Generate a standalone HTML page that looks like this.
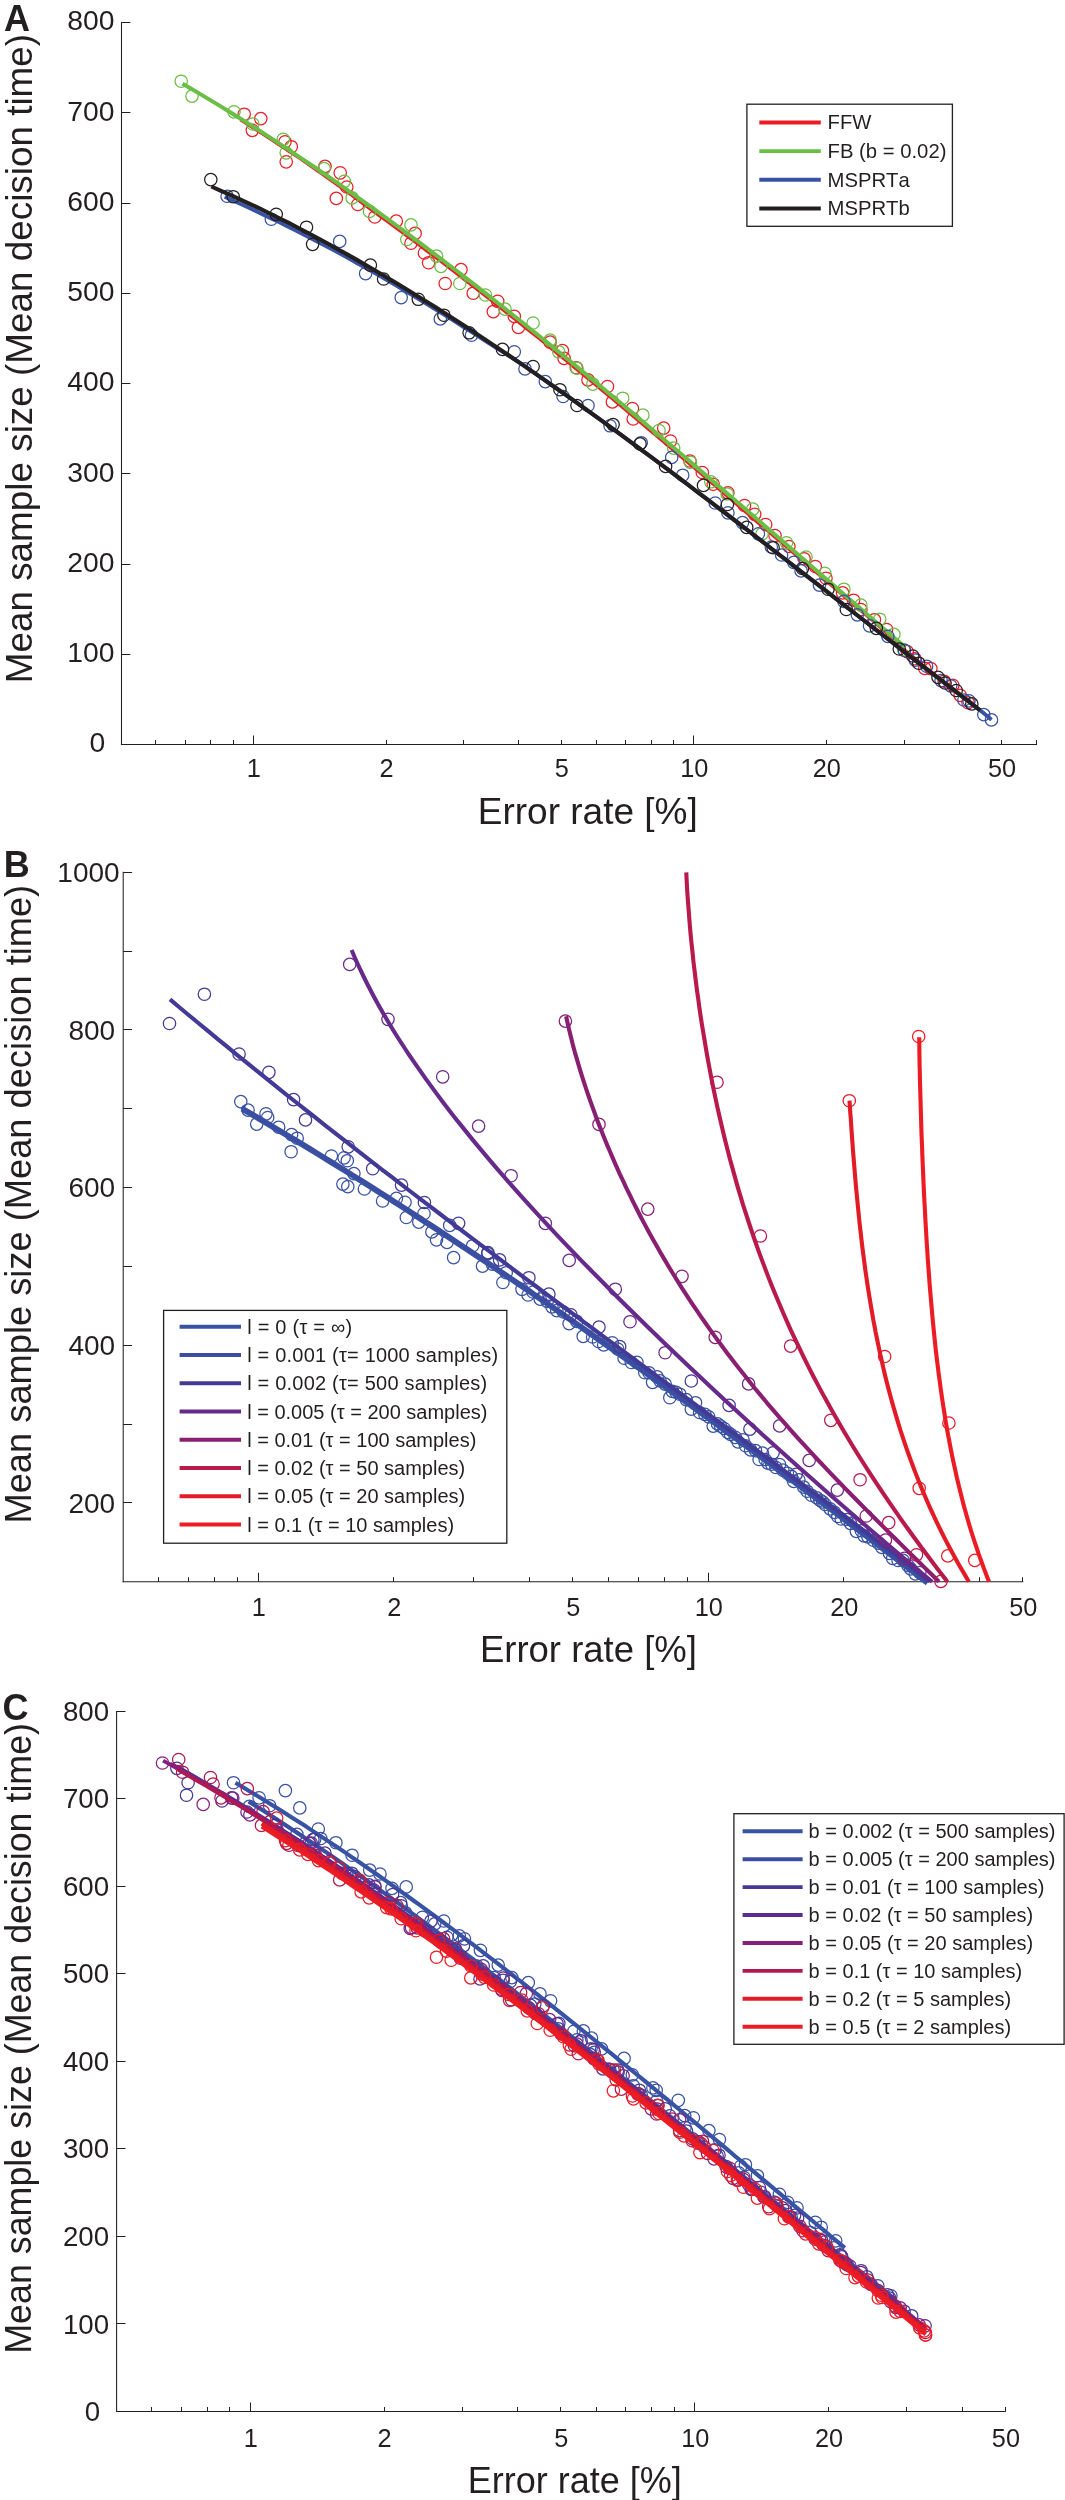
<!DOCTYPE html>
<html><head><meta charset="utf-8"><title>Figure</title>
<style>html,body{margin:0;padding:0;background:#fff;}svg{display:block;}text{font-family:"Liberation Sans",sans-serif;fill:#231f20;font-kerning:none;}</style></head><body>
<div style="will-change:transform;width:1065px;height:2500px;overflow:hidden">
<svg width="1065" height="2500" viewBox="0 0 1065 2500">
<rect width="1065" height="2500" fill="#fff"/>
<line x1="121.50" y1="21.98" x2="121.50" y2="745.02" stroke="#231f20" stroke-width="1.05"/>
<line x1="120.97" y1="744.50" x2="1037.03" y2="744.50" stroke="#231f20" stroke-width="1.05"/>
<line x1="121.50" y1="654.50" x2="130.40" y2="654.50" stroke="#231f20" stroke-width="1.05"/>
<line x1="121.50" y1="564.50" x2="130.40" y2="564.50" stroke="#231f20" stroke-width="1.05"/>
<line x1="121.50" y1="473.50" x2="130.40" y2="473.50" stroke="#231f20" stroke-width="1.05"/>
<line x1="121.50" y1="383.50" x2="130.40" y2="383.50" stroke="#231f20" stroke-width="1.05"/>
<line x1="121.50" y1="293.50" x2="130.40" y2="293.50" stroke="#231f20" stroke-width="1.05"/>
<line x1="121.50" y1="203.50" x2="130.40" y2="203.50" stroke="#231f20" stroke-width="1.05"/>
<line x1="121.50" y1="112.50" x2="130.40" y2="112.50" stroke="#231f20" stroke-width="1.05"/>
<line x1="121.50" y1="22.50" x2="130.40" y2="22.50" stroke="#231f20" stroke-width="1.05"/>
<line x1="155.50" y1="744.50" x2="155.50" y2="740.00" stroke="#231f20" stroke-width="1.05"/>
<line x1="185.50" y1="744.50" x2="185.50" y2="740.00" stroke="#231f20" stroke-width="1.05"/>
<line x1="210.50" y1="744.50" x2="210.50" y2="740.00" stroke="#231f20" stroke-width="1.05"/>
<line x1="233.50" y1="744.50" x2="233.50" y2="740.00" stroke="#231f20" stroke-width="1.05"/>
<line x1="253.50" y1="744.50" x2="253.50" y2="735.50" stroke="#231f20" stroke-width="1.05"/>
<line x1="386.50" y1="744.50" x2="386.50" y2="740.00" stroke="#231f20" stroke-width="1.05"/>
<line x1="463.50" y1="744.50" x2="463.50" y2="740.00" stroke="#231f20" stroke-width="1.05"/>
<line x1="518.50" y1="744.50" x2="518.50" y2="740.00" stroke="#231f20" stroke-width="1.05"/>
<line x1="561.50" y1="744.50" x2="561.50" y2="740.00" stroke="#231f20" stroke-width="1.05"/>
<line x1="596.50" y1="744.50" x2="596.50" y2="740.00" stroke="#231f20" stroke-width="1.05"/>
<line x1="625.50" y1="744.50" x2="625.50" y2="740.00" stroke="#231f20" stroke-width="1.05"/>
<line x1="651.50" y1="744.50" x2="651.50" y2="740.00" stroke="#231f20" stroke-width="1.05"/>
<line x1="673.50" y1="744.50" x2="673.50" y2="740.00" stroke="#231f20" stroke-width="1.05"/>
<line x1="693.50" y1="744.50" x2="693.50" y2="735.50" stroke="#231f20" stroke-width="1.05"/>
<line x1="826.50" y1="744.50" x2="826.50" y2="740.00" stroke="#231f20" stroke-width="1.05"/>
<line x1="904.50" y1="744.50" x2="904.50" y2="740.00" stroke="#231f20" stroke-width="1.05"/>
<line x1="959.50" y1="744.50" x2="959.50" y2="740.00" stroke="#231f20" stroke-width="1.05"/>
<line x1="1001.50" y1="744.50" x2="1001.50" y2="740.00" stroke="#231f20" stroke-width="1.05"/>
<line x1="1036.50" y1="744.50" x2="1036.50" y2="740.00" stroke="#231f20" stroke-width="1.05"/>
<g fill="none" stroke="#ed1c24" stroke-width="1.25">
<circle cx="244.2" cy="114.2" r="6.2"/>
<circle cx="260.8" cy="118.6" r="6.2"/>
<circle cx="252.3" cy="130.3" r="6.2"/>
<circle cx="285.0" cy="141.8" r="6.2"/>
<circle cx="291.3" cy="146.7" r="6.2"/>
<circle cx="286.2" cy="161.8" r="6.2"/>
<circle cx="325.0" cy="166.4" r="6.2"/>
<circle cx="340.2" cy="172.8" r="6.2"/>
<circle cx="346.8" cy="187.0" r="6.2"/>
<circle cx="336.3" cy="198.4" r="6.2"/>
<circle cx="357.8" cy="204.5" r="6.2"/>
<circle cx="374.8" cy="217.0" r="6.2"/>
<circle cx="396.3" cy="221.1" r="6.2"/>
<circle cx="415.1" cy="233.4" r="6.2"/>
<circle cx="411.0" cy="243.2" r="6.2"/>
<circle cx="424.4" cy="253.0" r="6.2"/>
<circle cx="428.6" cy="262.7" r="6.2"/>
<circle cx="461.0" cy="269.6" r="6.2"/>
<circle cx="445.2" cy="283.5" r="6.2"/>
<circle cx="473.2" cy="293.2" r="6.2"/>
<circle cx="497.7" cy="301.3" r="6.2"/>
<circle cx="493.3" cy="311.6" r="6.2"/>
<circle cx="514.3" cy="316.4" r="6.2"/>
<circle cx="518.4" cy="327.4" r="6.2"/>
<circle cx="550.1" cy="342.1" r="6.2"/>
<circle cx="562.4" cy="350.6" r="6.2"/>
<circle cx="564.1" cy="358.4" r="6.2"/>
<circle cx="576.3" cy="367.7" r="6.2"/>
<circle cx="588.0" cy="379.9" r="6.2"/>
<circle cx="607.5" cy="386.5" r="6.2"/>
<circle cx="612.4" cy="401.9" r="6.2"/>
<circle cx="632.4" cy="408.5" r="6.2"/>
<circle cx="633.2" cy="419.0" r="6.2"/>
<circle cx="663.7" cy="428.1" r="6.2"/>
<circle cx="670.5" cy="441.0" r="6.2"/>
<circle cx="690.0" cy="461.0" r="6.2"/>
<circle cx="702.3" cy="472.5" r="6.2"/>
<circle cx="713.2" cy="484.2" r="6.2"/>
<circle cx="727.9" cy="492.8" r="6.2"/>
<circle cx="744.5" cy="505.5" r="6.2"/>
<circle cx="754.7" cy="514.3" r="6.2"/>
<circle cx="765.7" cy="524.5" r="6.2"/>
<circle cx="775.0" cy="535.5" r="6.2"/>
<circle cx="788.9" cy="546.5" r="6.2"/>
<circle cx="804.1" cy="558.7" r="6.2"/>
<circle cx="815.3" cy="566.5" r="6.2"/>
<circle cx="826.0" cy="578.2" r="6.2"/>
<circle cx="842.6" cy="592.9" r="6.2"/>
<circle cx="853.6" cy="600.2" r="6.2"/>
<circle cx="860.9" cy="609.5" r="6.2"/>
<circle cx="874.4" cy="619.7" r="6.2"/>
<circle cx="886.6" cy="629.5" r="6.2"/>
<circle cx="907.2" cy="651.6" r="6.2"/>
<circle cx="914.8" cy="658.7" r="6.2"/>
<circle cx="924.8" cy="668.4" r="6.2"/>
<circle cx="930.9" cy="668.6" r="6.2"/>
<circle cx="944.1" cy="681.2" r="6.2"/>
<circle cx="952.8" cy="685.3" r="6.2"/>
<circle cx="960.2" cy="695.3" r="6.2"/>
<circle cx="968.1" cy="702.7" r="6.2"/>
</g>
<path d="M240.0 120.1 L247.4 124.8 L254.8 129.5 L262.3 134.3 L269.7 139.1 L277.1 144.0 L284.5 148.8 L292.0 153.8 L299.4 158.7 L306.8 163.9 L314.2 169.1 L321.7 174.3 L329.1 179.6 L336.5 184.9 L343.9 190.2 L351.4 195.6 L358.8 201.0 L366.2 206.5 L373.6 212.0 L381.1 217.5 L388.5 222.9 L395.9 228.3 L403.3 233.8 L410.8 239.3 L418.2 244.9 L425.6 250.5 L433.0 256.1 L440.5 261.7 L447.9 267.4 L455.3 273.1 L462.7 278.8 L470.2 284.6 L477.6 290.4 L485.0 296.2 L492.4 302.0 L499.8 307.9 L507.3 313.8 L514.7 319.7 L522.1 325.6 L529.5 331.6 L537.0 337.5 L544.4 343.5 L551.8 349.6 L559.2 355.6 L566.7 361.7 L574.1 367.8 L581.5 373.9 L588.9 380.0 L596.4 386.1 L603.8 392.3 L611.2 398.5 L618.6 404.7 L626.1 410.9 L633.5 417.1 L640.9 423.4 L648.3 429.6 L655.8 435.9 L663.2 442.2 L670.6 448.5 L678.0 454.8 L685.5 461.1 L692.9 467.4 L700.3 473.7 L707.7 480.1 L715.2 486.5 L722.6 492.8 L730.0 499.2 L737.4 505.6 L744.8 512.0 L752.3 518.4 L759.7 524.8 L767.1 531.0 L774.5 537.3 L782.0 543.7 L789.4 550.1 L796.8 556.4 L804.2 562.8 L811.7 569.1 L819.1 575.5 L826.5 581.9 L833.9 588.2 L841.4 594.6 L848.8 600.9 L856.2 607.3 L863.6 613.7 L871.1 620.0 L878.5 626.4 L885.9 633.1 L893.3 639.9 L900.8 646.5 L908.2 652.1 L915.6 658.0 L923.0 664.8 L930.5 670.6 L937.9 676.3 L945.3 682.0 L952.7 687.7 L960.2 693.5 L967.6 699.1 L975.0 704.8" fill="none" stroke="#ed1c24" stroke-width="2.20" stroke-linecap="butt" stroke-linejoin="round" />
<g fill="none" stroke="#6abd45" stroke-width="1.25">
<circle cx="181.2" cy="81.2" r="6.2"/>
<circle cx="192.0" cy="96.1" r="6.2"/>
<circle cx="234.0" cy="111.8" r="6.2"/>
<circle cx="252.8" cy="124.0" r="6.2"/>
<circle cx="283.3" cy="139.3" r="6.2"/>
<circle cx="286.2" cy="152.8" r="6.2"/>
<circle cx="324.1" cy="168.6" r="6.2"/>
<circle cx="344.3" cy="181.3" r="6.2"/>
<circle cx="352.1" cy="197.9" r="6.2"/>
<circle cx="369.5" cy="211.4" r="6.2"/>
<circle cx="411.0" cy="224.9" r="6.2"/>
<circle cx="406.8" cy="239.5" r="6.2"/>
<circle cx="436.6" cy="256.1" r="6.2"/>
<circle cx="441.0" cy="266.4" r="6.2"/>
<circle cx="459.8" cy="283.5" r="6.2"/>
<circle cx="485.4" cy="295.0" r="6.2"/>
<circle cx="505.0" cy="309.1" r="6.2"/>
<circle cx="533.1" cy="323.0" r="6.2"/>
<circle cx="550.1" cy="340.1" r="6.2"/>
<circle cx="558.7" cy="351.8" r="6.2"/>
<circle cx="577.0" cy="368.2" r="6.2"/>
<circle cx="592.9" cy="384.1" r="6.2"/>
<circle cx="622.7" cy="398.2" r="6.2"/>
<circle cx="642.9" cy="415.1" r="6.2"/>
<circle cx="659.0" cy="430.5" r="6.2"/>
<circle cx="673.7" cy="448.1" r="6.2"/>
<circle cx="690.5" cy="462.3" r="6.2"/>
<circle cx="710.8" cy="481.8" r="6.2"/>
<circle cx="727.2" cy="494.0" r="6.2"/>
<circle cx="752.8" cy="509.1" r="6.2"/>
<circle cx="762.1" cy="533.8" r="6.2"/>
<circle cx="786.5" cy="542.8" r="6.2"/>
<circle cx="806.0" cy="557.0" r="6.2"/>
<circle cx="824.8" cy="573.3" r="6.2"/>
<circle cx="843.9" cy="589.2" r="6.2"/>
<circle cx="860.9" cy="605.1" r="6.2"/>
<circle cx="879.7" cy="619.2" r="6.2"/>
<circle cx="893.9" cy="634.4" r="6.2"/>
<circle cx="903.7" cy="649.8" r="6.2"/>
</g>
<path d="M182.5 83.7 L191.6 89.0 L200.8 94.4 L209.9 99.9 L219.1 105.4 L228.2 111.0 L237.4 116.7 L246.5 122.4 L255.7 128.3 L264.8 134.1 L274.0 140.1 L283.1 146.1 L292.2 152.2 L301.4 158.3 L310.5 164.5 L319.7 170.7 L328.8 177.0 L338.0 183.4 L347.1 189.8 L356.3 196.3 L365.4 202.9 L374.6 209.5 L383.7 216.1 L392.8 222.8 L402.0 229.5 L411.1 236.3 L420.3 243.2 L429.4 250.1 L438.6 257.0 L447.7 264.0 L456.9 271.0 L466.0 278.1 L475.2 285.2 L484.3 292.3 L493.4 299.5 L502.6 306.7 L511.7 314.0 L520.9 321.3 L530.0 328.7 L539.2 336.0 L548.3 343.4 L557.5 350.9 L566.6 358.3 L575.8 365.8 L584.9 373.4 L594.1 380.9 L603.2 388.5 L612.3 396.1 L621.5 403.8 L630.6 411.4 L639.8 419.1 L648.9 426.8 L658.1 434.5 L667.2 442.3 L676.4 450.0 L685.5 457.8 L694.7 465.6 L703.8 473.4 L712.9 481.3 L722.1 489.1 L731.2 497.0 L740.4 504.8 L749.5 512.7 L758.7 520.6 L767.8 528.5 L777.0 536.4 L786.1 544.3 L795.3 552.2 L804.4 560.1 L813.5 568.0 L822.7 575.9 L831.8 583.8 L841.0 591.7 L850.1 599.7 L859.3 607.6 L868.4 615.5 L877.6 623.4 L886.7 631.3 L895.9 639.2 L905.0 647.1" fill="none" stroke="#6abd45" stroke-width="4.00" stroke-linecap="butt" stroke-linejoin="round" />
<g fill="none" stroke="#3953a4" stroke-width="1.25">
<circle cx="227.1" cy="196.2" r="6.2"/>
<circle cx="271.3" cy="219.2" r="6.2"/>
<circle cx="339.7" cy="241.4" r="6.2"/>
<circle cx="365.6" cy="273.6" r="6.2"/>
<circle cx="401.2" cy="297.6" r="6.2"/>
<circle cx="440.3" cy="318.9" r="6.2"/>
<circle cx="471.5" cy="335.2" r="6.2"/>
<circle cx="514.3" cy="351.8" r="6.2"/>
<circle cx="525.0" cy="368.9" r="6.2"/>
<circle cx="545.3" cy="381.6" r="6.2"/>
<circle cx="563.1" cy="396.5" r="6.2"/>
<circle cx="588.0" cy="405.5" r="6.2"/>
<circle cx="610.0" cy="425.8" r="6.2"/>
<circle cx="641.2" cy="442.7" r="6.2"/>
<circle cx="671.7" cy="457.4" r="6.2"/>
<circle cx="682.7" cy="475.2" r="6.2"/>
<circle cx="715.2" cy="503.0" r="6.2"/>
<circle cx="727.9" cy="512.8" r="6.2"/>
<circle cx="742.5" cy="522.6" r="6.2"/>
<circle cx="758.4" cy="533.8" r="6.2"/>
<circle cx="771.3" cy="547.0" r="6.2"/>
<circle cx="781.6" cy="555.0" r="6.2"/>
<circle cx="793.8" cy="562.4" r="6.2"/>
<circle cx="801.1" cy="570.9" r="6.2"/>
<circle cx="819.4" cy="585.1" r="6.2"/>
<circle cx="843.9" cy="601.4" r="6.2"/>
<circle cx="857.3" cy="614.8" r="6.2"/>
<circle cx="869.5" cy="625.8" r="6.2"/>
<circle cx="887.8" cy="636.3" r="6.2"/>
<circle cx="904.5" cy="650.4" r="6.2"/>
<circle cx="915.3" cy="660.1" r="6.2"/>
<circle cx="926.6" cy="666.2" r="6.2"/>
<circle cx="941.1" cy="680.6" r="6.2"/>
<circle cx="950.7" cy="685.8" r="6.2"/>
<circle cx="963.9" cy="700.0" r="6.2"/>
<circle cx="969.0" cy="700.8" r="6.2"/>
<circle cx="983.8" cy="714.6" r="6.2"/>
<circle cx="991.5" cy="719.9" r="6.2"/>
</g>
<path d="M224.7 196.7 L232.4 200.2 L240.2 203.7 L247.9 207.3 L255.7 211.0 L263.4 214.7 L271.2 218.4 L278.9 222.1 L286.7 225.9 L294.4 229.8 L302.2 233.7 L309.9 237.7 L317.6 241.7 L325.4 245.8 L333.1 249.9 L340.9 254.1 L348.6 258.4 L356.4 262.7 L364.1 267.0 L371.9 271.4 L379.6 275.9 L387.4 280.4 L395.1 284.9 L402.8 289.5 L410.6 294.1 L418.3 298.8 L426.1 303.5 L433.8 308.3 L441.6 313.1 L449.3 317.9 L457.1 322.8 L464.8 327.8 L472.6 332.7 L480.3 337.7 L488.0 342.6 L495.8 347.5 L503.5 352.4 L511.3 357.4 L519.0 362.4 L526.8 367.6 L534.5 373.0 L542.3 378.4 L550.0 383.8 L557.8 389.3 L565.5 394.7 L573.2 400.2 L581.0 405.8 L588.7 411.3 L596.5 416.9 L604.2 422.5 L612.0 428.2 L619.7 433.9 L627.5 439.5 L635.2 445.3 L643.0 451.0 L650.7 456.7 L658.4 462.5 L666.2 468.3 L673.9 474.1 L681.7 480.0 L689.4 485.8 L697.2 491.7 L704.9 497.6 L712.7 503.5 L720.4 509.4 L728.2 515.3 L735.9 521.2 L743.6 527.2 L751.4 533.1 L759.1 539.1 L766.9 545.1 L774.6 551.1 L782.4 557.1 L790.1 563.1 L797.9 569.1 L805.6 575.1 L813.4 581.1 L821.1 587.1 L828.8 593.1 L836.6 599.2 L844.3 605.2 L852.1 611.2 L859.8 617.2 L867.6 623.3 L875.3 629.3 L883.1 635.3 L890.8 641.3 L898.6 647.4 L906.3 653.4 L914.0 659.4 L921.8 665.4 L929.5 671.4 L937.3 677.3 L945.0 683.3 L952.8 689.3 L960.5 695.2 L968.3 701.2 L976.0 707.1 L983.8 713.3 L991.5 719.7" fill="none" stroke="#3953a4" stroke-width="3.90" stroke-linecap="butt" stroke-linejoin="round" />
<g fill="none" stroke="#231f20" stroke-width="1.25">
<circle cx="210.8" cy="179.6" r="6.2"/>
<circle cx="233.2" cy="196.7" r="6.2"/>
<circle cx="276.2" cy="214.3" r="6.2"/>
<circle cx="306.5" cy="227.2" r="6.2"/>
<circle cx="312.6" cy="244.3" r="6.2"/>
<circle cx="370.4" cy="265.1" r="6.2"/>
<circle cx="383.6" cy="279.0" r="6.2"/>
<circle cx="418.3" cy="299.3" r="6.2"/>
<circle cx="443.9" cy="315.2" r="6.2"/>
<circle cx="469.1" cy="332.8" r="6.2"/>
<circle cx="502.5" cy="349.4" r="6.2"/>
<circle cx="533.1" cy="366.5" r="6.2"/>
<circle cx="559.9" cy="389.7" r="6.2"/>
<circle cx="577.0" cy="405.5" r="6.2"/>
<circle cx="613.1" cy="424.6" r="6.2"/>
<circle cx="640.0" cy="443.9" r="6.2"/>
<circle cx="665.6" cy="466.4" r="6.2"/>
<circle cx="703.5" cy="485.4" r="6.2"/>
<circle cx="727.4" cy="504.5" r="6.2"/>
<circle cx="746.7" cy="527.4" r="6.2"/>
<circle cx="773.1" cy="547.7" r="6.2"/>
<circle cx="802.4" cy="568.5" r="6.2"/>
<circle cx="828.0" cy="589.2" r="6.2"/>
<circle cx="846.3" cy="609.5" r="6.2"/>
<circle cx="876.3" cy="628.3" r="6.2"/>
<circle cx="899.3" cy="649.0" r="6.2"/>
<circle cx="912.8" cy="656.0" r="6.2"/>
<circle cx="918.7" cy="663.2" r="6.2"/>
<circle cx="938.0" cy="677.3" r="6.2"/>
<circle cx="945.1" cy="683.0" r="6.2"/>
<circle cx="956.2" cy="690.5" r="6.2"/>
<circle cx="971.8" cy="703.9" r="6.2"/>
</g>
<path d="M211.3 186.5 L221.0 190.8 L230.8 195.1 L240.5 199.6 L250.2 204.1 L260.0 208.7 L269.7 213.5 L279.4 218.3 L289.2 223.2 L298.9 228.2 L308.6 233.3 L318.4 238.5 L328.1 243.8 L337.8 249.2 L347.6 254.6 L357.3 260.1 L367.0 265.7 L376.8 271.4 L386.5 277.2 L396.2 283.0 L406.0 288.9 L415.7 294.9 L425.4 300.9 L435.2 307.0 L444.9 313.2 L454.6 319.5 L464.4 325.8 L474.1 332.1 L483.8 338.6 L493.6 345.1 L503.3 351.6 L513.0 358.2 L522.8 364.9 L532.5 371.6 L542.2 378.4 L552.0 385.2 L561.7 392.0 L571.4 398.9 L581.2 405.9 L590.9 412.9 L600.6 419.9 L610.3 427.0 L620.1 434.1 L629.8 441.3 L639.5 448.5 L649.3 455.7 L659.0 462.9 L668.7 470.2 L678.5 477.5 L688.2 484.9 L697.9 492.3 L707.7 499.7 L717.4 507.1 L727.1 514.5 L736.9 522.0 L746.6 529.4 L756.3 536.9 L766.1 544.5 L775.8 552.0 L785.5 559.5 L795.3 567.1 L805.0 574.6 L814.7 582.2 L824.5 589.7 L834.2 597.3 L843.9 604.9 L853.7 612.5 L863.4 620.0 L873.1 627.6 L882.9 635.2 L892.6 642.7 L902.3 650.3 L912.1 657.8 L921.8 665.4 L931.5 672.9 L941.3 680.4 L951.0 687.9 L960.7 695.4 L970.5 702.9 L980.2 710.3" fill="none" stroke="#231f20" stroke-width="4.10" stroke-linecap="butt" stroke-linejoin="round" />
<rect x="746.9" y="104.2" width="205.5" height="122.1" fill="#fff" stroke="#231f20" stroke-width="1.3"/>
<line x1="759.30" y1="122.50" x2="820.80" y2="122.50" stroke="#ed1c24" stroke-width="3.90"/>
<line x1="759.30" y1="151.15" x2="820.80" y2="151.15" stroke="#6abd45" stroke-width="3.90"/>
<line x1="759.30" y1="179.80" x2="820.80" y2="179.80" stroke="#3953a4" stroke-width="3.90"/>
<line x1="759.30" y1="208.45" x2="820.80" y2="208.45" stroke="#231f20" stroke-width="3.90"/>
<line x1="123.20" y1="871.77" x2="123.20" y2="1582.23" stroke="#231f20" stroke-width="1.05"/>
<line x1="122.67" y1="1581.70" x2="1023.32" y2="1581.70" stroke="#231f20" stroke-width="1.05"/>
<line x1="123.20" y1="1502.50" x2="132.10" y2="1502.50" stroke="#231f20" stroke-width="1.05"/>
<line x1="123.20" y1="1424.50" x2="132.10" y2="1424.50" stroke="#231f20" stroke-width="1.05"/>
<line x1="123.20" y1="1345.50" x2="132.10" y2="1345.50" stroke="#231f20" stroke-width="1.05"/>
<line x1="123.20" y1="1266.50" x2="132.10" y2="1266.50" stroke="#231f20" stroke-width="1.05"/>
<line x1="123.20" y1="1187.50" x2="132.10" y2="1187.50" stroke="#231f20" stroke-width="1.05"/>
<line x1="123.20" y1="1108.50" x2="132.10" y2="1108.50" stroke="#231f20" stroke-width="1.05"/>
<line x1="123.20" y1="1029.50" x2="132.10" y2="1029.50" stroke="#231f20" stroke-width="1.05"/>
<line x1="123.20" y1="951.50" x2="132.10" y2="951.50" stroke="#231f20" stroke-width="1.05"/>
<line x1="123.20" y1="872.50" x2="132.10" y2="872.50" stroke="#231f20" stroke-width="1.05"/>
<line x1="158.50" y1="1581.70" x2="158.50" y2="1577.20" stroke="#231f20" stroke-width="1.05"/>
<line x1="188.50" y1="1581.70" x2="188.50" y2="1577.20" stroke="#231f20" stroke-width="1.05"/>
<line x1="214.50" y1="1581.70" x2="214.50" y2="1577.20" stroke="#231f20" stroke-width="1.05"/>
<line x1="237.50" y1="1581.70" x2="237.50" y2="1577.20" stroke="#231f20" stroke-width="1.05"/>
<line x1="258.50" y1="1581.70" x2="258.50" y2="1572.70" stroke="#231f20" stroke-width="1.05"/>
<line x1="393.50" y1="1581.70" x2="393.50" y2="1577.20" stroke="#231f20" stroke-width="1.05"/>
<line x1="473.50" y1="1581.70" x2="473.50" y2="1577.20" stroke="#231f20" stroke-width="1.05"/>
<line x1="529.50" y1="1581.70" x2="529.50" y2="1577.20" stroke="#231f20" stroke-width="1.05"/>
<line x1="572.50" y1="1581.70" x2="572.50" y2="1577.20" stroke="#231f20" stroke-width="1.05"/>
<line x1="608.50" y1="1581.70" x2="608.50" y2="1577.20" stroke="#231f20" stroke-width="1.05"/>
<line x1="638.50" y1="1581.70" x2="638.50" y2="1577.20" stroke="#231f20" stroke-width="1.05"/>
<line x1="664.50" y1="1581.70" x2="664.50" y2="1577.20" stroke="#231f20" stroke-width="1.05"/>
<line x1="687.50" y1="1581.70" x2="687.50" y2="1577.20" stroke="#231f20" stroke-width="1.05"/>
<line x1="708.50" y1="1581.70" x2="708.50" y2="1572.70" stroke="#231f20" stroke-width="1.05"/>
<line x1="843.50" y1="1581.70" x2="843.50" y2="1577.20" stroke="#231f20" stroke-width="1.05"/>
<line x1="923.50" y1="1581.70" x2="923.50" y2="1577.20" stroke="#231f20" stroke-width="1.05"/>
<line x1="979.50" y1="1581.70" x2="979.50" y2="1577.20" stroke="#231f20" stroke-width="1.05"/>
<line x1="1022.50" y1="1581.70" x2="1022.50" y2="1577.20" stroke="#231f20" stroke-width="1.05"/>
<g fill="none" stroke="#3953a4" stroke-width="1.25">
<circle cx="240.8" cy="1101.6" r="6.2"/>
<circle cx="248.1" cy="1110.1" r="6.2"/>
<circle cx="256.7" cy="1124.1" r="6.2"/>
<circle cx="266.0" cy="1113.8" r="6.2"/>
<circle cx="267.7" cy="1117.5" r="6.2"/>
<circle cx="278.7" cy="1127.2" r="6.2"/>
<circle cx="291.6" cy="1134.6" r="6.2"/>
<circle cx="297.2" cy="1138.2" r="6.2"/>
<circle cx="291.1" cy="1151.7" r="6.2"/>
<circle cx="331.4" cy="1156.0" r="6.2"/>
<circle cx="344.1" cy="1157.8" r="6.2"/>
<circle cx="347.3" cy="1160.7" r="6.2"/>
<circle cx="353.9" cy="1173.6" r="6.2"/>
<circle cx="342.9" cy="1184.1" r="6.2"/>
<circle cx="347.8" cy="1186.6" r="6.2"/>
<circle cx="364.4" cy="1189.0" r="6.2"/>
<circle cx="382.6" cy="1201.0" r="6.2"/>
<circle cx="396.4" cy="1198.4" r="6.2"/>
<circle cx="405.0" cy="1202.3" r="6.2"/>
<circle cx="406.3" cy="1217.5" r="6.2"/>
<circle cx="424.0" cy="1213.5" r="6.2"/>
<circle cx="418.8" cy="1222.1" r="6.2"/>
<circle cx="431.9" cy="1231.9" r="6.2"/>
<circle cx="436.5" cy="1239.8" r="6.2"/>
<circle cx="447.0" cy="1242.4" r="6.2"/>
<circle cx="449.7" cy="1225.4" r="6.2"/>
<circle cx="453.6" cy="1257.6" r="6.2"/>
<circle cx="472.7" cy="1245.7" r="6.2"/>
<circle cx="482.5" cy="1266.1" r="6.2"/>
<circle cx="487.8" cy="1253.6" r="6.2"/>
<circle cx="492.4" cy="1264.1" r="6.2"/>
<circle cx="502.9" cy="1282.5" r="6.2"/>
<circle cx="506.2" cy="1272.7" r="6.2"/>
<circle cx="522.0" cy="1289.3" r="6.2"/>
<circle cx="528.1" cy="1295.0" r="6.2"/>
<circle cx="533.0" cy="1292.0" r="6.2"/>
<circle cx="540.2" cy="1299.1" r="6.2"/>
<circle cx="547.2" cy="1301.3" r="6.2"/>
<circle cx="551.9" cy="1306.8" r="6.2"/>
<circle cx="556.8" cy="1310.6" r="6.2"/>
<circle cx="563.5" cy="1312.0" r="6.2"/>
<circle cx="569.1" cy="1323.6" r="6.2"/>
<circle cx="576.7" cy="1321.4" r="6.2"/>
<circle cx="583.2" cy="1336.4" r="6.2"/>
<circle cx="592.6" cy="1337.0" r="6.2"/>
<circle cx="598.5" cy="1341.5" r="6.2"/>
<circle cx="603.7" cy="1344.9" r="6.2"/>
<circle cx="612.3" cy="1342.8" r="6.2"/>
<circle cx="617.7" cy="1349.0" r="6.2"/>
<circle cx="624.1" cy="1358.2" r="6.2"/>
<circle cx="631.3" cy="1362.5" r="6.2"/>
<circle cx="636.9" cy="1362.3" r="6.2"/>
<circle cx="644.8" cy="1372.7" r="6.2"/>
<circle cx="648.9" cy="1372.7" r="6.2"/>
<circle cx="652.6" cy="1382.3" r="6.2"/>
<circle cx="657.1" cy="1376.9" r="6.2"/>
<circle cx="660.1" cy="1380.8" r="6.2"/>
<circle cx="665.2" cy="1384.1" r="6.2"/>
<circle cx="669.8" cy="1397.7" r="6.2"/>
<circle cx="672.4" cy="1391.4" r="6.2"/>
<circle cx="676.0" cy="1392.2" r="6.2"/>
<circle cx="679.8" cy="1394.2" r="6.2"/>
<circle cx="686.2" cy="1399.6" r="6.2"/>
<circle cx="691.3" cy="1409.1" r="6.2"/>
<circle cx="695.5" cy="1402.7" r="6.2"/>
<circle cx="699.6" cy="1412.5" r="6.2"/>
<circle cx="704.9" cy="1414.4" r="6.2"/>
<circle cx="708.7" cy="1416.8" r="6.2"/>
<circle cx="713.2" cy="1426.1" r="6.2"/>
<circle cx="717.5" cy="1423.9" r="6.2"/>
<circle cx="720.6" cy="1426.1" r="6.2"/>
<circle cx="724.1" cy="1428.5" r="6.2"/>
<circle cx="727.8" cy="1432.4" r="6.2"/>
<circle cx="730.6" cy="1434.4" r="6.2"/>
<circle cx="735.3" cy="1437.3" r="6.2"/>
<circle cx="738.0" cy="1441.8" r="6.2"/>
<circle cx="743.0" cy="1439.8" r="6.2"/>
<circle cx="745.5" cy="1445.7" r="6.2"/>
<circle cx="750.6" cy="1449.9" r="6.2"/>
<circle cx="755.5" cy="1450.6" r="6.2"/>
<circle cx="759.1" cy="1459.5" r="6.2"/>
<circle cx="762.5" cy="1453.1" r="6.2"/>
<circle cx="765.2" cy="1459.5" r="6.2"/>
<circle cx="767.9" cy="1463.1" r="6.2"/>
<circle cx="771.7" cy="1464.2" r="6.2"/>
<circle cx="775.9" cy="1467.5" r="6.2"/>
<circle cx="779.5" cy="1464.5" r="6.2"/>
<circle cx="782.9" cy="1470.1" r="6.2"/>
<circle cx="787.4" cy="1473.2" r="6.2"/>
<circle cx="791.3" cy="1476.4" r="6.2"/>
<circle cx="793.7" cy="1481.4" r="6.2"/>
<circle cx="798.8" cy="1479.8" r="6.2"/>
<circle cx="803.7" cy="1487.1" r="6.2"/>
<circle cx="807.1" cy="1491.2" r="6.2"/>
<circle cx="811.4" cy="1495.2" r="6.2"/>
<circle cx="816.6" cy="1497.7" r="6.2"/>
<circle cx="819.9" cy="1500.2" r="6.2"/>
<circle cx="822.6" cy="1501.9" r="6.2"/>
<circle cx="825.1" cy="1504.5" r="6.2"/>
<circle cx="830.2" cy="1508.9" r="6.2"/>
<circle cx="834.4" cy="1512.4" r="6.2"/>
<circle cx="837.8" cy="1516.5" r="6.2"/>
<circle cx="841.2" cy="1519.0" r="6.2"/>
<circle cx="846.7" cy="1519.5" r="6.2"/>
<circle cx="850.4" cy="1523.3" r="6.2"/>
<circle cx="856.3" cy="1531.3" r="6.2"/>
<circle cx="861.3" cy="1530.7" r="6.2"/>
<circle cx="864.0" cy="1535.8" r="6.2"/>
<circle cx="868.0" cy="1536.9" r="6.2"/>
<circle cx="873.4" cy="1540.2" r="6.2"/>
<circle cx="878.4" cy="1543.1" r="6.2"/>
<circle cx="881.9" cy="1547.4" r="6.2"/>
<circle cx="889.4" cy="1553.3" r="6.2"/>
<circle cx="892.7" cy="1558.4" r="6.2"/>
<circle cx="898.1" cy="1560.5" r="6.2"/>
<circle cx="903.1" cy="1560.4" r="6.2"/>
<circle cx="907.8" cy="1565.3" r="6.2"/>
<circle cx="910.7" cy="1568.9" r="6.2"/>
<circle cx="915.3" cy="1573.8" r="6.2"/>
<circle cx="919.8" cy="1572.6" r="6.2"/>
</g>
<path d="M241.5 1107.6 L250.2 1112.6 L258.9 1117.7 L267.5 1122.8 L276.2 1128.0 L284.9 1133.2 L293.6 1138.4 L302.2 1143.6 L310.9 1148.9 L319.6 1154.2 L328.3 1159.5 L336.9 1164.9 L345.6 1170.2 L354.3 1175.7 L363.0 1181.1 L371.7 1186.6 L380.3 1192.1 L389.0 1197.6 L397.7 1203.2 L406.4 1208.7 L415.0 1214.4 L423.7 1220.0 L432.4 1225.6 L441.1 1231.3 L449.8 1237.0 L458.4 1242.8 L467.1 1248.5 L475.8 1254.3 L484.5 1260.1 L493.1 1266.0 L501.8 1271.8 L510.5 1277.7 L519.2 1283.6 L527.8 1289.5 L536.5 1295.5 L545.2 1301.5 L553.9 1307.4 L562.6 1313.5 L571.2 1319.5 L579.9 1325.5 L588.6 1331.6 L597.3 1337.7 L605.9 1343.8 L614.6 1350.0 L623.3 1356.1 L632.0 1362.3 L640.7 1368.5 L649.3 1374.7 L658.0 1380.9 L666.7 1387.2 L675.4 1393.5 L684.0 1399.7 L692.7 1406.0 L701.4 1412.4 L710.1 1418.7 L718.7 1425.0 L727.4 1431.4 L736.1 1437.8 L744.8 1444.2 L753.5 1450.6 L762.1 1457.0 L770.8 1463.5 L779.5 1469.9 L788.2 1476.4 L796.8 1482.9 L805.5 1489.4 L814.2 1495.9 L822.9 1502.4 L831.6 1509.0 L840.2 1515.5 L848.9 1522.1 L857.6 1528.6 L866.3 1535.2 L874.9 1541.8 L883.6 1548.4 L892.3 1555.0 L901.0 1561.6 L909.6 1568.3 L918.3 1574.9 L927.0 1581.6" fill="none" stroke="#3953a4" stroke-width="3.90" stroke-linecap="butt" stroke-linejoin="round" transform="translate(0,2.0)"/>
<path d="M241.5 1107.6 L250.2 1112.6 L258.9 1117.7 L267.5 1122.8 L276.2 1128.0 L284.9 1133.2 L293.6 1138.4 L302.2 1143.6 L310.9 1148.9 L319.6 1154.2 L328.3 1159.5 L336.9 1164.9 L345.6 1170.2 L354.3 1175.7 L363.0 1181.1 L371.7 1186.6 L380.3 1192.1 L389.0 1197.6 L397.7 1203.2 L406.4 1208.7 L415.0 1214.4 L423.7 1220.0 L432.4 1225.6 L441.1 1231.3 L449.8 1237.0 L458.4 1242.8 L467.1 1248.5 L475.8 1254.3 L484.5 1260.1 L493.1 1266.0 L501.8 1271.8 L510.5 1277.7 L519.2 1283.6 L527.8 1289.5 L536.5 1295.5 L545.2 1301.5 L553.9 1307.4 L562.6 1313.5 L571.2 1319.5 L579.9 1325.5 L588.6 1331.6 L597.3 1337.7 L605.9 1343.8 L614.6 1350.0 L623.3 1356.1 L632.0 1362.3 L640.7 1368.5 L649.3 1374.7 L658.0 1380.9 L666.7 1387.2 L675.4 1393.5 L684.0 1399.7 L692.7 1406.0 L701.4 1412.4 L710.1 1418.7 L718.7 1425.0 L727.4 1431.4 L736.1 1437.8 L744.8 1444.2 L753.5 1450.6 L762.1 1457.0 L770.8 1463.5 L779.5 1469.9 L788.2 1476.4 L796.8 1482.9 L805.5 1489.4 L814.2 1495.9 L822.9 1502.4 L831.6 1509.0 L840.2 1515.5 L848.9 1522.1 L857.6 1528.6 L866.3 1535.2 L874.9 1541.8 L883.6 1548.4 L892.3 1555.0 L901.0 1561.6 L909.6 1568.3 L918.3 1574.9 L927.0 1581.6" fill="none" stroke="#3b4ea1" stroke-width="3.90" stroke-linecap="butt" stroke-linejoin="round" transform="translate(0,-0.4)"/>
<g fill="none" stroke="#433a97" stroke-width="1.25">
<circle cx="169.5" cy="1023.5" r="6.2"/>
<circle cx="204.4" cy="994.2" r="6.2"/>
<circle cx="239.1" cy="1054.0" r="6.2"/>
<circle cx="268.9" cy="1072.3" r="6.2"/>
<circle cx="293.6" cy="1099.6" r="6.2"/>
<circle cx="305.5" cy="1119.9" r="6.2"/>
<circle cx="348.2" cy="1146.8" r="6.2"/>
<circle cx="372.7" cy="1168.7" r="6.2"/>
<circle cx="401.5" cy="1185.1" r="6.2"/>
<circle cx="424.4" cy="1202.5" r="6.2"/>
<circle cx="458.6" cy="1223.3" r="6.2"/>
<circle cx="487.9" cy="1252.6" r="6.2"/>
<circle cx="499.6" cy="1259.9" r="6.2"/>
<circle cx="528.9" cy="1277.7" r="6.2"/>
<circle cx="548.9" cy="1294.1" r="6.2"/>
<circle cx="570.9" cy="1314.8" r="6.2"/>
<circle cx="599.0" cy="1327.1" r="6.2"/>
<circle cx="619.7" cy="1346.6" r="6.2"/>
<circle cx="691.3" cy="1381.0" r="6.2"/>
<circle cx="729.1" cy="1405.4" r="6.2"/>
<circle cx="749.9" cy="1429.1" r="6.2"/>
<circle cx="773.1" cy="1452.8" r="6.2"/>
<circle cx="796.2" cy="1474.3" r="6.2"/>
</g>
<path d="M170.0 999.4 L179.6 1007.5 L189.2 1015.5 L198.9 1023.5 L208.5 1031.4 L218.1 1039.3 L227.7 1047.2 L237.3 1055.1 L247.0 1062.9 L256.6 1070.7 L266.2 1078.4 L275.8 1086.1 L285.4 1093.8 L295.1 1101.5 L304.7 1109.1 L314.3 1116.7 L323.9 1124.3 L333.5 1131.9 L343.2 1139.4 L352.8 1146.9 L362.4 1154.4 L372.0 1161.9 L381.6 1169.3 L391.3 1176.7 L400.9 1184.1 L410.5 1191.5 L420.1 1198.9 L429.7 1206.2 L439.4 1213.5 L449.0 1220.8 L458.6 1228.1 L468.2 1235.4 L477.8 1242.7 L487.5 1249.9 L497.1 1257.1 L506.7 1264.4 L516.3 1271.6 L525.9 1278.8 L535.6 1286.0 L545.2 1293.1 L554.8 1300.3 L564.4 1307.5 L574.1 1314.6 L583.7 1321.8 L593.3 1328.9 L602.9 1336.1 L612.5 1343.2 L622.2 1350.3 L631.8 1357.5 L641.4 1364.6 L651.0 1371.7 L660.6 1378.9 L670.3 1386.0 L679.9 1393.1 L689.5 1400.2 L699.1 1407.4 L708.7 1414.5 L718.4 1421.6 L728.0 1428.8 L737.6 1435.9 L747.2 1443.1 L756.8 1450.3 L766.5 1457.4 L776.1 1464.6 L785.7 1471.8 L795.3 1479.0 L804.9 1486.2 L814.6 1493.4 L824.2 1500.7 L833.8 1507.9 L843.4 1515.2 L853.0 1522.5 L862.7 1529.7 L872.3 1537.0 L881.9 1544.4 L891.5 1551.7 L901.1 1559.1 L910.8 1566.4 L920.4 1573.8 L930.0 1581.3" fill="none" stroke="#433a97" stroke-width="4.10" stroke-linecap="butt" stroke-linejoin="round" />
<g fill="none" stroke="#672a8a" stroke-width="1.25">
<circle cx="442.7" cy="1076.8" r="6.2"/>
<circle cx="349.7" cy="964.4" r="6.2"/>
<circle cx="388.0" cy="1019.3" r="6.2"/>
<circle cx="478.6" cy="1126.1" r="6.2"/>
<circle cx="511.1" cy="1175.7" r="6.2"/>
<circle cx="545.3" cy="1223.3" r="6.2"/>
<circle cx="569.2" cy="1260.4" r="6.2"/>
<circle cx="615.3" cy="1289.2" r="6.2"/>
<circle cx="630.0" cy="1321.7" r="6.2"/>
<circle cx="665.1" cy="1352.7" r="6.2"/>
<circle cx="748.6" cy="1383.9" r="6.2"/>
<circle cx="779.6" cy="1425.9" r="6.2"/>
<circle cx="809.2" cy="1460.4" r="6.2"/>
<circle cx="837.3" cy="1490.1" r="6.2"/>
</g>
<path d="M351.6 950.0 L355.0 958.0 L358.6 966.0 L362.4 974.0 L366.3 982.0 L370.4 990.0 L374.6 998.0 L379.0 1006.0 L383.6 1014.0 L388.3 1022.0 L393.1 1030.0 L398.1 1038.0 L403.3 1046.0 L408.5 1054.0 L413.9 1061.9 L419.5 1069.9 L425.1 1077.9 L430.9 1085.9 L436.8 1093.9 L442.8 1101.9 L448.9 1109.9 L455.1 1117.9 L461.5 1125.9 L467.9 1133.9 L474.4 1141.9 L481.1 1149.9 L487.8 1157.9 L494.6 1165.9 L501.5 1173.9 L508.5 1181.9 L515.6 1189.9 L522.7 1197.9 L530.0 1205.9 L537.3 1213.9 L544.7 1221.9 L552.1 1229.9 L559.6 1237.9 L567.2 1245.9 L574.9 1253.9 L582.6 1261.9 L590.4 1269.8 L598.3 1277.8 L606.2 1285.8 L614.1 1293.8 L622.1 1301.8 L630.2 1309.8 L638.4 1317.8 L646.5 1325.8 L654.8 1333.8 L663.0 1341.8 L671.4 1349.8 L679.8 1357.8 L688.2 1365.8 L696.7 1373.8 L705.2 1381.8 L713.7 1389.8 L722.3 1397.8 L731.0 1405.8 L739.7 1413.8 L748.4 1421.8 L757.2 1429.8 L766.0 1437.8 L774.9 1445.8 L783.8 1453.8 L792.7 1461.8 L801.7 1469.8 L810.8 1477.7 L819.8 1485.7 L828.9 1493.7 L838.1 1501.7 L847.3 1509.7 L856.5 1517.7 L865.8 1525.7 L875.2 1533.7 L884.5 1541.7 L893.9 1549.7 L903.4 1557.7 L912.9 1565.7 L922.5 1573.7 L932.1 1581.7" fill="none" stroke="#672a8a" stroke-width="4.10" stroke-linecap="butt" stroke-linejoin="round" />
<g fill="none" stroke="#8a1f72" stroke-width="1.25">
<circle cx="565.4" cy="1021.1" r="6.2"/>
<circle cx="599.0" cy="1124.4" r="6.2"/>
<circle cx="647.8" cy="1209.1" r="6.2"/>
<circle cx="682.0" cy="1276.3" r="6.2"/>
<circle cx="715.2" cy="1337.3" r="6.2"/>
<circle cx="866.2" cy="1516.0" r="6.2"/>
<circle cx="885.4" cy="1540.1" r="6.2"/>
<circle cx="904.5" cy="1558.2" r="6.2"/>
</g>
<path d="M566.1 1016.3 L567.7 1023.5 L569.3 1030.6 L571.1 1037.8 L572.9 1044.9 L574.8 1052.1 L576.9 1059.2 L579.0 1066.4 L581.2 1073.6 L583.4 1080.7 L585.8 1087.9 L588.2 1095.0 L590.7 1102.2 L593.3 1109.3 L595.9 1116.5 L598.6 1123.7 L601.4 1130.8 L604.3 1138.0 L607.2 1145.1 L610.3 1152.3 L613.3 1159.4 L616.5 1166.6 L619.7 1173.8 L623.1 1180.9 L626.4 1188.1 L629.9 1195.2 L633.4 1202.4 L637.0 1209.5 L640.7 1216.7 L644.5 1223.9 L648.3 1231.0 L652.3 1238.2 L656.3 1245.3 L660.4 1252.5 L664.6 1259.6 L668.8 1266.8 L673.2 1274.0 L677.6 1281.1 L682.1 1288.3 L686.7 1295.4 L691.4 1302.6 L696.2 1309.7 L701.1 1316.9 L706.1 1324.0 L711.1 1331.2 L716.3 1338.4 L721.6 1345.5 L726.9 1352.7 L732.3 1359.8 L737.9 1367.0 L743.5 1374.1 L749.2 1381.3 L755.0 1388.5 L761.0 1395.6 L766.9 1402.8 L773.0 1409.9 L779.2 1417.1 L785.5 1424.2 L791.8 1431.4 L798.3 1438.6 L804.8 1445.7 L811.4 1452.9 L818.0 1460.0 L824.8 1467.2 L831.6 1474.3 L838.5 1481.5 L845.4 1488.7 L852.4 1495.8 L859.5 1503.0 L866.6 1510.1 L873.7 1517.3 L880.9 1524.4 L888.1 1531.6 L895.4 1538.8 L902.6 1545.9 L909.9 1553.1 L917.2 1560.2 L924.4 1567.4 L931.7 1574.5 L938.9 1581.7" fill="none" stroke="#8a1f72" stroke-width="4.10" stroke-linecap="butt" stroke-linejoin="round" />
<g fill="none" stroke="#b9194b" stroke-width="1.25">
<circle cx="717.0" cy="1082.2" r="6.2"/>
<circle cx="760.4" cy="1236.0" r="6.2"/>
<circle cx="790.6" cy="1346.1" r="6.2"/>
<circle cx="830.8" cy="1420.3" r="6.2"/>
<circle cx="860.1" cy="1479.7" r="6.2"/>
<circle cx="888.7" cy="1522.6" r="6.2"/>
<circle cx="916.5" cy="1554.8" r="6.2"/>
<circle cx="941.0" cy="1581.4" r="6.2"/>
</g>
<path d="M686.3 872.3 L686.7 881.3 L687.2 890.3 L687.8 899.2 L688.5 908.2 L689.2 917.2 L689.9 926.2 L690.7 935.2 L691.6 944.1 L692.6 953.1 L693.5 962.1 L694.6 971.1 L695.7 980.1 L696.8 989.0 L698.1 998.0 L699.3 1007.0 L700.6 1016.0 L702.0 1025.0 L703.5 1033.9 L705.0 1042.9 L706.5 1051.9 L708.1 1060.9 L709.8 1069.9 L711.5 1078.8 L713.3 1087.8 L715.2 1096.8 L717.1 1105.8 L719.1 1114.8 L721.2 1123.7 L723.3 1132.7 L725.5 1141.7 L727.8 1150.7 L730.1 1159.7 L732.6 1168.6 L735.1 1177.6 L737.6 1186.6 L740.3 1195.6 L743.0 1204.6 L745.9 1213.5 L748.8 1222.5 L751.8 1231.5 L754.9 1240.5 L758.0 1249.4 L761.3 1258.4 L764.7 1267.4 L768.1 1276.4 L771.7 1285.4 L775.3 1294.3 L779.1 1303.3 L782.9 1312.3 L786.9 1321.3 L790.9 1330.3 L795.1 1339.2 L799.4 1348.2 L803.7 1357.2 L808.2 1366.2 L812.8 1375.2 L817.5 1384.1 L822.3 1393.1 L827.2 1402.1 L832.2 1411.1 L837.3 1420.1 L842.5 1429.0 L847.9 1438.0 L853.3 1447.0 L858.9 1456.0 L864.6 1465.0 L870.3 1473.9 L876.2 1482.9 L882.2 1491.9 L888.3 1500.9 L894.5 1509.9 L900.7 1518.8 L907.1 1527.8 L913.6 1536.8 L920.2 1545.8 L926.9 1554.8 L933.6 1563.7 L940.5 1572.7 L947.4 1581.7" fill="none" stroke="#b9194b" stroke-width="4.10" stroke-linecap="butt" stroke-linejoin="round" />
<g fill="none" stroke="#e21b26" stroke-width="1.25">
<circle cx="849.3" cy="1100.7" r="6.2"/>
<circle cx="884.7" cy="1356.5" r="6.2"/>
<circle cx="919.2" cy="1488.3" r="6.2"/>
<circle cx="947.8" cy="1555.9" r="6.2"/>
</g>
<path d="M849.5 1100.7 L849.9 1106.8 L850.3 1112.9 L850.8 1119.0 L851.2 1125.1 L851.6 1131.1 L852.0 1137.2 L852.5 1143.3 L852.9 1149.4 L853.4 1155.5 L853.9 1161.6 L854.4 1167.7 L854.9 1173.8 L855.4 1179.9 L855.9 1185.9 L856.5 1192.0 L857.1 1198.1 L857.7 1204.2 L858.3 1210.3 L858.9 1216.4 L859.5 1222.5 L860.2 1228.6 L860.9 1234.6 L861.6 1240.7 L862.3 1246.8 L863.1 1252.9 L863.9 1259.0 L864.7 1265.1 L865.5 1271.2 L866.4 1277.3 L867.3 1283.4 L868.2 1289.4 L869.2 1295.5 L870.2 1301.6 L871.2 1307.7 L872.3 1313.8 L873.3 1319.9 L874.5 1326.0 L875.6 1332.1 L876.9 1338.2 L878.1 1344.2 L879.4 1350.3 L880.7 1356.4 L882.1 1362.5 L883.5 1368.6 L884.9 1374.7 L886.4 1380.8 L888.0 1386.9 L889.6 1393.0 L891.2 1399.0 L892.9 1405.1 L894.7 1411.2 L896.5 1417.3 L898.3 1423.4 L900.2 1429.5 L902.2 1435.6 L904.2 1441.7 L906.3 1447.8 L908.4 1453.8 L910.6 1459.9 L912.9 1466.0 L915.2 1472.1 L917.6 1478.2 L920.0 1484.3 L922.5 1490.4 L925.1 1496.5 L927.7 1502.5 L930.4 1508.6 L933.2 1514.7 L936.1 1520.8 L939.0 1526.9 L942.0 1533.0 L945.1 1539.1 L948.3 1545.2 L951.5 1551.3 L954.8 1557.3 L958.2 1563.4 L961.7 1569.5 L965.3 1575.6 L968.9 1581.7" fill="none" stroke="#e21b26" stroke-width="4.10" stroke-linecap="butt" stroke-linejoin="round" />
<g fill="none" stroke="#ed1c24" stroke-width="1.25">
<circle cx="918.7" cy="1036.5" r="6.2"/>
<circle cx="948.9" cy="1423.0" r="6.2"/>
<circle cx="974.8" cy="1560.4" r="6.2"/>
</g>
<path d="M919.2 1037.2 L919.3 1044.1 L919.4 1051.0 L919.5 1057.9 L919.6 1064.8 L919.8 1071.7 L919.9 1078.6 L920.1 1085.4 L920.3 1092.3 L920.5 1099.2 L920.7 1106.1 L920.9 1113.0 L921.1 1119.9 L921.3 1126.8 L921.5 1133.7 L921.8 1140.6 L922.1 1147.5 L922.3 1154.4 L922.6 1161.3 L922.9 1168.2 L923.2 1175.0 L923.5 1181.9 L923.8 1188.8 L924.1 1195.7 L924.5 1202.6 L924.9 1209.5 L925.2 1216.4 L925.6 1223.3 L926.0 1230.2 L926.4 1237.1 L926.8 1244.0 L927.3 1250.9 L927.7 1257.8 L928.2 1264.6 L928.7 1271.5 L929.2 1278.4 L929.7 1285.3 L930.3 1292.2 L930.9 1299.1 L931.5 1306.0 L932.1 1312.9 L932.7 1319.8 L933.4 1326.7 L934.1 1333.6 L934.8 1340.5 L935.5 1347.4 L936.3 1354.3 L937.1 1361.1 L938.0 1368.0 L938.8 1374.9 L939.8 1381.8 L940.7 1388.7 L941.7 1395.6 L942.7 1402.5 L943.8 1409.4 L944.9 1416.3 L946.0 1423.2 L947.2 1430.1 L948.5 1437.0 L949.8 1443.9 L951.1 1450.7 L952.5 1457.6 L954.0 1464.5 L955.5 1471.4 L957.0 1478.3 L958.7 1485.2 L960.4 1492.1 L962.1 1499.0 L963.9 1505.9 L965.8 1512.8 L967.8 1519.7 L969.8 1526.6 L971.9 1533.5 L974.1 1540.3 L976.4 1547.2 L978.7 1554.1 L981.2 1561.0 L983.7 1567.9 L986.3 1574.8 L989.0 1581.7" fill="none" stroke="#ed1c24" stroke-width="4.10" stroke-linecap="butt" stroke-linejoin="round" />
<rect x="163.6" y="1310.4" width="343.2" height="232.8" fill="#fff" stroke="#231f20" stroke-width="1.3"/>
<line x1="179.60" y1="1326.80" x2="241.00" y2="1326.80" stroke="#3953a4" stroke-width="3.90"/>
<line x1="179.60" y1="1355.05" x2="241.00" y2="1355.05" stroke="#3b4ea1" stroke-width="3.90"/>
<line x1="179.60" y1="1383.30" x2="241.00" y2="1383.30" stroke="#433a97" stroke-width="3.90"/>
<line x1="179.60" y1="1411.55" x2="241.00" y2="1411.55" stroke="#672a8a" stroke-width="3.90"/>
<line x1="179.60" y1="1439.80" x2="241.00" y2="1439.80" stroke="#8a1f72" stroke-width="3.90"/>
<line x1="179.60" y1="1468.05" x2="241.00" y2="1468.05" stroke="#b9194b" stroke-width="3.90"/>
<line x1="179.60" y1="1496.30" x2="241.00" y2="1496.30" stroke="#e21b26" stroke-width="3.90"/>
<line x1="179.60" y1="1524.55" x2="241.00" y2="1524.55" stroke="#ed1c24" stroke-width="3.90"/>
<line x1="116.60" y1="1710.88" x2="116.60" y2="2412.03" stroke="#231f20" stroke-width="1.05"/>
<line x1="116.07" y1="2411.50" x2="1005.73" y2="2411.50" stroke="#231f20" stroke-width="1.05"/>
<line x1="116.60" y1="2323.50" x2="125.50" y2="2323.50" stroke="#231f20" stroke-width="1.05"/>
<line x1="116.60" y1="2236.50" x2="125.50" y2="2236.50" stroke="#231f20" stroke-width="1.05"/>
<line x1="116.60" y1="2148.50" x2="125.50" y2="2148.50" stroke="#231f20" stroke-width="1.05"/>
<line x1="116.60" y1="2061.50" x2="125.50" y2="2061.50" stroke="#231f20" stroke-width="1.05"/>
<line x1="116.60" y1="1973.50" x2="125.50" y2="1973.50" stroke="#231f20" stroke-width="1.05"/>
<line x1="116.60" y1="1886.50" x2="125.50" y2="1886.50" stroke="#231f20" stroke-width="1.05"/>
<line x1="116.60" y1="1798.50" x2="125.50" y2="1798.50" stroke="#231f20" stroke-width="1.05"/>
<line x1="116.60" y1="1711.50" x2="125.50" y2="1711.50" stroke="#231f20" stroke-width="1.05"/>
<line x1="151.50" y1="2411.50" x2="151.50" y2="2407.00" stroke="#231f20" stroke-width="1.05"/>
<line x1="181.50" y1="2411.50" x2="181.50" y2="2407.00" stroke="#231f20" stroke-width="1.05"/>
<line x1="207.50" y1="2411.50" x2="207.50" y2="2407.00" stroke="#231f20" stroke-width="1.05"/>
<line x1="229.50" y1="2411.50" x2="229.50" y2="2407.00" stroke="#231f20" stroke-width="1.05"/>
<line x1="250.50" y1="2411.50" x2="250.50" y2="2402.50" stroke="#231f20" stroke-width="1.05"/>
<line x1="384.50" y1="2411.50" x2="384.50" y2="2407.00" stroke="#231f20" stroke-width="1.05"/>
<line x1="462.50" y1="2411.50" x2="462.50" y2="2407.00" stroke="#231f20" stroke-width="1.05"/>
<line x1="517.50" y1="2411.50" x2="517.50" y2="2407.00" stroke="#231f20" stroke-width="1.05"/>
<line x1="560.50" y1="2411.50" x2="560.50" y2="2407.00" stroke="#231f20" stroke-width="1.05"/>
<line x1="596.50" y1="2411.50" x2="596.50" y2="2407.00" stroke="#231f20" stroke-width="1.05"/>
<line x1="625.50" y1="2411.50" x2="625.50" y2="2407.00" stroke="#231f20" stroke-width="1.05"/>
<line x1="651.50" y1="2411.50" x2="651.50" y2="2407.00" stroke="#231f20" stroke-width="1.05"/>
<line x1="674.50" y1="2411.50" x2="674.50" y2="2407.00" stroke="#231f20" stroke-width="1.05"/>
<line x1="694.50" y1="2411.50" x2="694.50" y2="2402.50" stroke="#231f20" stroke-width="1.05"/>
<line x1="828.50" y1="2411.50" x2="828.50" y2="2407.00" stroke="#231f20" stroke-width="1.05"/>
<line x1="906.50" y1="2411.50" x2="906.50" y2="2407.00" stroke="#231f20" stroke-width="1.05"/>
<line x1="962.50" y1="2411.50" x2="962.50" y2="2407.00" stroke="#231f20" stroke-width="1.05"/>
<line x1="1005.50" y1="2411.50" x2="1005.50" y2="2407.00" stroke="#231f20" stroke-width="1.05"/>
<g fill="none" stroke="#3953a4" stroke-width="1.25">
<circle cx="233.5" cy="1782.7" r="6.2"/>
<circle cx="259.1" cy="1797.8" r="6.2"/>
<circle cx="285.4" cy="1790.6" r="6.2"/>
<circle cx="299.8" cy="1807.9" r="6.2"/>
<circle cx="318.3" cy="1829.0" r="6.2"/>
<circle cx="335.9" cy="1842.7" r="6.2"/>
<circle cx="352.1" cy="1855.2" r="6.2"/>
<circle cx="369.7" cy="1870.1" r="6.2"/>
<circle cx="380.0" cy="1874.0" r="6.2"/>
<circle cx="392.0" cy="1888.4" r="6.2"/>
<circle cx="406.2" cy="1886.9" r="6.2"/>
<circle cx="434.7" cy="1923.9" r="6.2"/>
<circle cx="443.8" cy="1921.0" r="6.2"/>
<circle cx="451.6" cy="1935.1" r="6.2"/>
<circle cx="464.4" cy="1938.8" r="6.2"/>
<circle cx="480.4" cy="1950.3" r="6.2"/>
<circle cx="498.2" cy="1965.1" r="6.2"/>
<circle cx="511.8" cy="1977.6" r="6.2"/>
<circle cx="528.3" cy="1982.6" r="6.2"/>
<circle cx="540.0" cy="1993.9" r="6.2"/>
<circle cx="550.6" cy="2000.8" r="6.2"/>
<circle cx="573.9" cy="2031.3" r="6.2"/>
<circle cx="583.4" cy="2030.9" r="6.2"/>
<circle cx="591.5" cy="2038.1" r="6.2"/>
<circle cx="601.6" cy="2048.9" r="6.2"/>
<circle cx="624.1" cy="2058.4" r="6.2"/>
<circle cx="632.3" cy="2074.8" r="6.2"/>
<circle cx="652.9" cy="2087.8" r="6.2"/>
<circle cx="656.2" cy="2090.3" r="6.2"/>
<circle cx="678.3" cy="2100.3" r="6.2"/>
<circle cx="684.7" cy="2115.6" r="6.2"/>
<circle cx="693.4" cy="2117.8" r="6.2"/>
<circle cx="708.9" cy="2130.6" r="6.2"/>
<circle cx="719.4" cy="2139.5" r="6.2"/>
<circle cx="740.8" cy="2166.3" r="6.2"/>
<circle cx="745.4" cy="2164.7" r="6.2"/>
<circle cx="757.4" cy="2175.7" r="6.2"/>
<circle cx="779.4" cy="2194.3" r="6.2"/>
<circle cx="787.6" cy="2202.3" r="6.2"/>
<circle cx="797.0" cy="2207.8" r="6.2"/>
<circle cx="815.3" cy="2222.3" r="6.2"/>
<circle cx="821.2" cy="2227.2" r="6.2"/>
<circle cx="835.7" cy="2240.8" r="6.2"/>
</g>
<path d="M235.4 1782.8 L242.2 1786.8 L249.1 1790.9 L255.9 1795.1 L262.8 1799.2 L269.6 1803.5 L276.5 1807.7 L283.3 1812.0 L290.2 1816.4 L297.0 1820.7 L303.9 1825.1 L310.7 1829.6 L317.6 1834.1 L324.4 1838.6 L331.3 1843.2 L338.1 1847.8 L345.0 1852.4 L351.8 1857.1 L358.6 1861.8 L365.5 1866.5 L372.3 1871.2 L379.2 1876.0 L386.0 1880.9 L392.9 1885.7 L399.7 1890.6 L406.6 1895.5 L413.4 1900.5 L420.3 1905.4 L427.1 1910.4 L434.0 1915.5 L440.8 1920.5 L447.7 1925.6 L454.5 1930.7 L461.4 1935.9 L468.2 1941.0 L475.1 1946.2 L481.9 1951.4 L488.7 1956.6 L495.6 1961.9 L502.4 1967.2 L509.3 1972.5 L516.1 1977.8 L523.0 1983.1 L529.8 1988.5 L536.7 1993.9 L543.5 1999.3 L550.4 2004.7 L557.2 2010.1 L564.1 2015.6 L570.9 2021.1 L577.8 2026.6 L584.6 2032.1 L591.5 2037.6 L598.3 2043.1 L605.1 2048.7 L612.0 2054.2 L618.8 2059.8 L625.7 2065.4 L632.5 2071.0 L639.4 2076.6 L646.2 2082.2 L653.1 2087.9 L659.9 2093.5 L666.8 2099.2 L673.6 2104.8 L680.5 2110.5 L687.3 2116.2 L694.2 2121.9 L701.0 2127.6 L707.9 2133.3 L714.7 2139.0 L721.6 2144.7 L728.4 2150.4 L735.2 2156.2 L742.1 2161.9 L748.9 2167.6 L755.8 2173.4 L762.6 2179.1 L769.5 2184.8 L776.3 2190.6 L783.2 2196.3 L790.0 2202.1 L796.9 2207.8 L803.7 2213.5 L810.6 2219.3 L817.4 2225.0 L824.3 2230.7 L831.1 2236.5 L838.0 2242.2 L844.8 2247.9" fill="none" stroke="#3953a4" stroke-width="4.10" stroke-linecap="butt" stroke-linejoin="round" />
<g fill="none" stroke="#3b4ea1" stroke-width="1.25">
<circle cx="249.3" cy="1806.4" r="6.2"/>
<circle cx="269.6" cy="1805.7" r="6.2"/>
<circle cx="296.9" cy="1834.4" r="6.2"/>
<circle cx="314.7" cy="1839.1" r="6.2"/>
<circle cx="320.8" cy="1838.5" r="6.2"/>
<circle cx="346.8" cy="1874.2" r="6.2"/>
<circle cx="354.9" cy="1876.6" r="6.2"/>
<circle cx="375.0" cy="1886.2" r="6.2"/>
<circle cx="400.6" cy="1902.6" r="6.2"/>
<circle cx="405.6" cy="1912.9" r="6.2"/>
<circle cx="422.4" cy="1917.3" r="6.2"/>
<circle cx="446.9" cy="1937.3" r="6.2"/>
<circle cx="459.3" cy="1935.8" r="6.2"/>
<circle cx="477.0" cy="1966.0" r="6.2"/>
<circle cx="494.2" cy="1977.6" r="6.2"/>
<circle cx="503.2" cy="1980.2" r="6.2"/>
<circle cx="530.5" cy="2005.4" r="6.2"/>
<circle cx="534.8" cy="2004.1" r="6.2"/>
<circle cx="558.5" cy="2028.9" r="6.2"/>
<circle cx="576.9" cy="2039.8" r="6.2"/>
<circle cx="591.0" cy="2048.7" r="6.2"/>
<circle cx="594.3" cy="2052.2" r="6.2"/>
<circle cx="608.4" cy="2069.0" r="6.2"/>
<circle cx="633.2" cy="2085.7" r="6.2"/>
<circle cx="641.4" cy="2095.2" r="6.2"/>
<circle cx="656.7" cy="2101.2" r="6.2"/>
<circle cx="669.7" cy="2115.8" r="6.2"/>
<circle cx="685.1" cy="2127.5" r="6.2"/>
<circle cx="704.6" cy="2147.2" r="6.2"/>
<circle cx="715.0" cy="2149.9" r="6.2"/>
<circle cx="738.7" cy="2172.8" r="6.2"/>
<circle cx="743.8" cy="2177.3" r="6.2"/>
<circle cx="760.7" cy="2192.2" r="6.2"/>
<circle cx="774.0" cy="2202.0" r="6.2"/>
<circle cx="791.2" cy="2217.0" r="6.2"/>
<circle cx="809.9" cy="2232.3" r="6.2"/>
<circle cx="825.4" cy="2241.6" r="6.2"/>
<circle cx="833.9" cy="2247.7" r="6.2"/>
<circle cx="841.8" cy="2256.9" r="6.2"/>
<circle cx="866.7" cy="2276.7" r="6.2"/>
<circle cx="877.8" cy="2285.8" r="6.2"/>
<circle cx="890.9" cy="2295.8" r="6.2"/>
</g>
<path d="M248.6 1801.4 L255.9 1806.0 L263.1 1810.6 L270.4 1815.3 L277.7 1820.0 L285.0 1824.7 L292.2 1829.5 L299.5 1834.3 L306.8 1839.2 L314.1 1844.0 L321.3 1849.0 L328.6 1853.9 L335.9 1858.9 L343.2 1864.0 L350.4 1869.1 L357.7 1874.2 L365.0 1879.3 L372.3 1884.5 L379.5 1889.7 L386.8 1894.9 L394.1 1900.2 L401.4 1905.5 L408.6 1910.8 L415.9 1916.2 L423.2 1921.6 L430.5 1927.0 L437.7 1932.4 L445.0 1937.9 L452.3 1943.4 L459.6 1948.9 L466.8 1954.5 L474.1 1960.0 L481.4 1965.6 L488.6 1971.2 L495.9 1976.9 L503.2 1982.5 L510.5 1988.2 L517.7 1993.9 L525.0 1999.6 L532.3 2005.3 L539.6 2011.1 L546.8 2016.8 L554.1 2022.6 L561.4 2028.4 L568.7 2034.2 L575.9 2040.0 L583.2 2045.9 L590.5 2051.7 L597.8 2057.6 L605.0 2063.5 L612.3 2069.4 L619.6 2075.2 L626.9 2081.2 L634.1 2087.1 L641.4 2093.0 L648.7 2098.9 L656.0 2104.8 L663.2 2110.8 L670.5 2116.7 L677.8 2122.7 L685.0 2128.6 L692.3 2134.6 L699.6 2140.5 L706.9 2146.5 L714.1 2152.5 L721.4 2158.4 L728.7 2164.4 L736.0 2170.4 L743.2 2176.3 L750.5 2182.3 L757.8 2188.2 L765.1 2194.2 L772.3 2200.1 L779.6 2206.1 L786.9 2212.0 L794.2 2217.9 L801.4 2223.9 L808.7 2229.8 L816.0 2235.7 L823.3 2241.6 L830.5 2247.5 L837.8 2253.3 L845.1 2259.2 L852.4 2265.1 L859.6 2270.9 L866.9 2276.7 L874.2 2282.5 L881.5 2288.3 L888.7 2294.1 L896.0 2300.0" fill="none" stroke="#3b4ea1" stroke-width="4.10" stroke-linecap="butt" stroke-linejoin="round" />
<g fill="none" stroke="#433a97" stroke-width="1.25">
<circle cx="176.9" cy="1768.3" r="6.2"/>
<circle cx="188.1" cy="1782.7" r="6.2"/>
<circle cx="186.5" cy="1795.2" r="6.2"/>
<circle cx="275.7" cy="1825.1" r="6.2"/>
<circle cx="311.2" cy="1843.0" r="6.2"/>
<circle cx="312.9" cy="1839.6" r="6.2"/>
<circle cx="351.8" cy="1873.2" r="6.2"/>
<circle cx="368.9" cy="1884.9" r="6.2"/>
<circle cx="392.6" cy="1894.6" r="6.2"/>
<circle cx="401.2" cy="1905.8" r="6.2"/>
<circle cx="430.9" cy="1921.1" r="6.2"/>
<circle cx="441.4" cy="1942.6" r="6.2"/>
<circle cx="463.4" cy="1945.9" r="6.2"/>
<circle cx="483.2" cy="1965.9" r="6.2"/>
<circle cx="501.6" cy="1989.2" r="6.2"/>
<circle cx="510.3" cy="1981.5" r="6.2"/>
<circle cx="543.4" cy="2005.6" r="6.2"/>
<circle cx="558.8" cy="2023.3" r="6.2"/>
<circle cx="574.3" cy="2045.6" r="6.2"/>
<circle cx="589.7" cy="2054.1" r="6.2"/>
<circle cx="613.1" cy="2070.3" r="6.2"/>
<circle cx="618.1" cy="2072.1" r="6.2"/>
<circle cx="639.4" cy="2090.2" r="6.2"/>
<circle cx="665.2" cy="2108.7" r="6.2"/>
<circle cx="686.6" cy="2131.1" r="6.2"/>
<circle cx="692.4" cy="2138.7" r="6.2"/>
<circle cx="717.1" cy="2156.1" r="6.2"/>
<circle cx="726.1" cy="2166.6" r="6.2"/>
<circle cx="751.2" cy="2189.3" r="6.2"/>
<circle cx="764.6" cy="2196.7" r="6.2"/>
<circle cx="785.5" cy="2210.5" r="6.2"/>
<circle cx="794.6" cy="2215.3" r="6.2"/>
<circle cx="823.6" cy="2245.2" r="6.2"/>
<circle cx="839.9" cy="2254.8" r="6.2"/>
<circle cx="847.3" cy="2264.8" r="6.2"/>
<circle cx="861.1" cy="2270.7" r="6.2"/>
<circle cx="889.7" cy="2298.1" r="6.2"/>
<circle cx="904.1" cy="2311.2" r="6.2"/>
<circle cx="911.7" cy="2315.9" r="6.2"/>
</g>
<path d="M177.0 1766.8 L185.4 1771.5 L193.8 1776.3 L202.2 1781.2 L210.6 1786.1 L219.1 1791.1 L227.5 1796.1 L235.9 1801.2 L244.3 1806.3 L252.7 1811.4 L261.1 1816.7 L269.5 1821.9 L277.9 1827.2 L286.3 1832.6 L294.7 1838.0 L303.2 1843.5 L311.6 1849.0 L320.0 1854.6 L328.4 1860.2 L336.8 1865.9 L345.2 1871.6 L353.6 1877.4 L362.0 1883.2 L370.4 1889.0 L378.8 1894.9 L387.3 1900.8 L395.7 1906.8 L404.1 1912.8 L412.5 1918.8 L420.9 1924.9 L429.3 1931.0 L437.7 1937.1 L446.1 1943.3 L454.5 1949.5 L462.9 1955.7 L471.4 1962.0 L479.8 1968.3 L488.2 1974.6 L496.6 1981.0 L505.0 1987.4 L513.4 1993.8 L521.8 2000.2 L530.2 2006.7 L538.6 2013.2 L547.0 2019.7 L555.5 2026.3 L563.9 2032.8 L572.3 2039.4 L580.7 2046.0 L589.1 2052.7 L597.5 2059.3 L605.9 2066.0 L614.3 2072.7 L622.7 2079.5 L631.1 2086.2 L639.6 2093.0 L648.0 2099.7 L656.4 2106.5 L664.8 2113.4 L673.2 2120.2 L681.6 2127.0 L690.0 2133.9 L698.4 2140.8 L706.8 2147.6 L715.2 2154.4 L723.7 2161.3 L732.1 2168.2 L740.5 2175.0 L748.9 2181.9 L757.3 2188.8 L765.7 2195.7 L774.1 2202.6 L782.5 2209.5 L790.9 2216.5 L799.3 2223.4 L807.8 2230.3 L816.2 2237.3 L824.6 2244.2 L833.0 2251.2 L841.4 2258.1 L849.8 2265.1 L858.2 2272.0 L866.6 2279.0 L875.0 2285.9 L883.4 2292.9 L891.9 2299.8 L900.3 2306.8 L908.7 2313.7 L917.1 2320.7 L925.5 2327.6" fill="none" stroke="#433a97" stroke-width="3.90" stroke-linecap="butt" stroke-linejoin="round" />
<g fill="none" stroke="#5b2d90" stroke-width="1.25">
<circle cx="232.8" cy="1798.1" r="6.2"/>
<circle cx="222.0" cy="1801.0" r="6.2"/>
<circle cx="247.0" cy="1812.0" r="6.2"/>
<circle cx="274.9" cy="1825.3" r="6.2"/>
<circle cx="298.0" cy="1845.5" r="6.2"/>
<circle cx="324.9" cy="1853.1" r="6.2"/>
<circle cx="350.5" cy="1876.3" r="6.2"/>
<circle cx="373.9" cy="1890.0" r="6.2"/>
<circle cx="374.9" cy="1893.7" r="6.2"/>
<circle cx="411.5" cy="1927.6" r="6.2"/>
<circle cx="425.1" cy="1931.0" r="6.2"/>
<circle cx="439.3" cy="1939.4" r="6.2"/>
<circle cx="455.1" cy="1949.7" r="6.2"/>
<circle cx="480.0" cy="1978.9" r="6.2"/>
<circle cx="494.7" cy="1981.8" r="6.2"/>
<circle cx="511.5" cy="1999.7" r="6.2"/>
<circle cx="535.5" cy="2013.5" r="6.2"/>
<circle cx="557.0" cy="2023.7" r="6.2"/>
<circle cx="581.1" cy="2040.7" r="6.2"/>
<circle cx="594.1" cy="2058.9" r="6.2"/>
<circle cx="602.9" cy="2068.9" r="6.2"/>
<circle cx="617.8" cy="2070.0" r="6.2"/>
<circle cx="638.5" cy="2093.9" r="6.2"/>
<circle cx="657.7" cy="2105.2" r="6.2"/>
<circle cx="679.6" cy="2130.6" r="6.2"/>
<circle cx="698.6" cy="2141.9" r="6.2"/>
<circle cx="719.0" cy="2155.2" r="6.2"/>
<circle cx="738.3" cy="2179.9" r="6.2"/>
<circle cx="752.3" cy="2189.0" r="6.2"/>
<circle cx="759.3" cy="2187.5" r="6.2"/>
<circle cx="789.7" cy="2217.2" r="6.2"/>
<circle cx="797.6" cy="2218.1" r="6.2"/>
<circle cx="821.7" cy="2240.6" r="6.2"/>
<circle cx="841.0" cy="2255.6" r="6.2"/>
<circle cx="845.4" cy="2262.9" r="6.2"/>
<circle cx="870.9" cy="2284.4" r="6.2"/>
<circle cx="887.5" cy="2294.8" r="6.2"/>
<circle cx="895.8" cy="2307.6" r="6.2"/>
<circle cx="925.1" cy="2325.8" r="6.2"/>
</g>
<path d="M170.0 1763.6 L178.5 1768.4 L187.0 1773.2 L195.5 1778.1 L204.0 1783.0 L212.4 1788.0 L220.9 1793.0 L229.4 1798.1 L237.9 1803.2 L246.4 1808.4 L254.9 1813.6 L263.4 1818.9 L271.9 1824.2 L280.4 1829.6 L288.8 1835.0 L297.3 1840.5 L305.8 1846.0 L314.3 1851.6 L322.8 1857.3 L331.3 1863.0 L339.8 1868.7 L348.3 1874.5 L356.8 1880.4 L365.2 1886.2 L373.7 1892.2 L382.2 1898.1 L390.7 1904.1 L399.2 1910.1 L407.7 1916.2 L416.2 1922.3 L424.7 1928.4 L433.2 1934.6 L441.6 1940.8 L450.1 1947.0 L458.6 1953.3 L467.1 1959.6 L475.6 1966.0 L484.1 1972.3 L492.6 1978.7 L501.1 1985.2 L509.6 1991.6 L518.0 1998.1 L526.5 2004.6 L535.0 2011.2 L543.5 2017.8 L552.0 2024.4 L560.5 2031.0 L569.0 2037.6 L577.5 2044.3 L585.9 2051.0 L594.4 2057.7 L602.9 2064.5 L611.4 2071.2 L619.9 2078.0 L628.4 2084.8 L636.9 2091.6 L645.4 2098.4 L653.9 2105.3 L662.3 2112.2 L670.8 2119.1 L679.3 2126.0 L687.8 2132.9 L696.3 2139.8 L704.8 2146.7 L713.3 2153.6 L721.8 2160.6 L730.3 2167.5 L738.7 2174.4 L747.2 2181.4 L755.7 2188.3 L764.2 2195.3 L772.7 2202.2 L781.2 2209.2 L789.7 2216.2 L798.2 2223.2 L806.7 2230.2 L815.1 2237.2 L823.6 2244.2 L832.1 2251.2 L840.6 2258.3 L849.1 2265.3 L857.6 2272.3 L866.1 2279.3 L874.6 2286.3 L883.1 2293.4 L891.5 2300.4 L900.0 2307.4 L908.5 2314.4 L917.0 2321.4 L925.5 2328.4" fill="none" stroke="#5b2d90" stroke-width="3.90" stroke-linecap="butt" stroke-linejoin="round" />
<g fill="none" stroke="#86207f" stroke-width="1.25">
<circle cx="162.5" cy="1763.0" r="6.2"/>
<circle cx="203.2" cy="1804.4" r="6.2"/>
<circle cx="231.5" cy="1797.8" r="6.2"/>
<circle cx="249.9" cy="1814.9" r="6.2"/>
<circle cx="277.1" cy="1829.8" r="6.2"/>
<circle cx="309.2" cy="1843.4" r="6.2"/>
<circle cx="329.8" cy="1861.3" r="6.2"/>
<circle cx="342.2" cy="1873.3" r="6.2"/>
<circle cx="365.1" cy="1887.8" r="6.2"/>
<circle cx="374.8" cy="1886.8" r="6.2"/>
<circle cx="410.2" cy="1928.3" r="6.2"/>
<circle cx="417.3" cy="1927.9" r="6.2"/>
<circle cx="439.8" cy="1941.0" r="6.2"/>
<circle cx="455.4" cy="1948.8" r="6.2"/>
<circle cx="481.2" cy="1969.4" r="6.2"/>
<circle cx="503.1" cy="1978.1" r="6.2"/>
<circle cx="526.3" cy="1993.6" r="6.2"/>
<circle cx="528.9" cy="2007.8" r="6.2"/>
<circle cx="549.6" cy="2019.6" r="6.2"/>
<circle cx="576.9" cy="2044.1" r="6.2"/>
<circle cx="593.3" cy="2049.6" r="6.2"/>
<circle cx="609.7" cy="2069.5" r="6.2"/>
<circle cx="623.1" cy="2075.7" r="6.2"/>
<circle cx="651.2" cy="2108.8" r="6.2"/>
<circle cx="656.6" cy="2114.0" r="6.2"/>
<circle cx="679.6" cy="2119.7" r="6.2"/>
<circle cx="697.9" cy="2143.2" r="6.2"/>
<circle cx="714.0" cy="2158.8" r="6.2"/>
<circle cx="733.1" cy="2178.4" r="6.2"/>
<circle cx="748.7" cy="2184.7" r="6.2"/>
<circle cx="763.9" cy="2196.9" r="6.2"/>
<circle cx="782.5" cy="2207.9" r="6.2"/>
<circle cx="802.9" cy="2230.7" r="6.2"/>
<circle cx="815.2" cy="2239.2" r="6.2"/>
<circle cx="841.2" cy="2261.0" r="6.2"/>
<circle cx="849.9" cy="2266.0" r="6.2"/>
<circle cx="860.9" cy="2272.6" r="6.2"/>
<circle cx="890.6" cy="2301.6" r="6.2"/>
<circle cx="900.2" cy="2307.9" r="6.2"/>
<circle cx="919.2" cy="2324.9" r="6.2"/>
</g>
<path d="M163.1 1760.6 L171.7 1765.4 L180.2 1770.2 L188.8 1775.0 L197.4 1780.0 L205.9 1784.9 L214.5 1790.0 L223.1 1795.1 L231.6 1800.2 L240.2 1805.4 L248.8 1810.6 L257.3 1815.9 L265.9 1821.3 L274.5 1826.6 L283.0 1832.1 L291.6 1837.6 L300.2 1843.1 L308.7 1848.7 L317.3 1854.4 L325.9 1860.1 L334.4 1865.9 L343.0 1871.7 L351.6 1877.6 L360.1 1883.5 L368.7 1889.4 L377.3 1895.4 L385.8 1901.4 L394.4 1907.5 L403.0 1913.6 L411.5 1919.7 L420.1 1925.9 L428.7 1932.1 L437.2 1938.4 L445.8 1944.7 L454.4 1951.0 L462.9 1957.3 L471.5 1963.7 L480.1 1970.1 L488.6 1976.6 L497.2 1983.0 L505.8 1989.5 L514.3 1996.1 L522.9 2002.6 L531.5 2009.2 L540.0 2015.9 L548.6 2022.5 L557.1 2029.2 L565.7 2035.9 L574.3 2042.6 L582.8 2049.3 L591.4 2056.1 L600.0 2062.9 L608.5 2069.7 L617.1 2076.6 L625.7 2083.4 L634.2 2090.3 L642.8 2097.2 L651.4 2104.1 L659.9 2111.0 L668.5 2118.0 L677.1 2124.9 L685.6 2131.9 L694.2 2138.9 L702.8 2145.9 L711.3 2152.9 L719.9 2159.8 L728.5 2166.8 L737.0 2173.8 L745.6 2180.8 L754.2 2187.8 L762.7 2194.9 L771.3 2201.9 L779.9 2208.9 L788.4 2216.0 L797.0 2223.1 L805.6 2230.1 L814.1 2237.2 L822.7 2244.3 L831.3 2251.3 L839.8 2258.4 L848.4 2265.5 L857.0 2272.6 L865.5 2279.7 L874.1 2286.8 L882.7 2293.8 L891.2 2300.9 L899.8 2308.0 L908.4 2315.1 L916.9 2322.2 L925.5 2329.2" fill="none" stroke="#86207f" stroke-width="3.90" stroke-linecap="butt" stroke-linejoin="round" />
<g fill="none" stroke="#b0184f" stroke-width="1.25">
<circle cx="178.7" cy="1759.5" r="6.2"/>
<circle cx="182.6" cy="1772.2" r="6.2"/>
<circle cx="210.5" cy="1777.5" r="6.2"/>
<circle cx="213.1" cy="1784.0" r="6.2"/>
<circle cx="221.0" cy="1797.8" r="6.2"/>
<circle cx="247.3" cy="1788.6" r="6.2"/>
<circle cx="263.1" cy="1811.6" r="6.2"/>
<circle cx="261.5" cy="1825.4" r="6.2"/>
<circle cx="286.6" cy="1843.3" r="6.2"/>
<circle cx="288.9" cy="1845.2" r="6.2"/>
<circle cx="315.5" cy="1855.4" r="6.2"/>
<circle cx="339.7" cy="1879.9" r="6.2"/>
<circle cx="361.1" cy="1882.9" r="6.2"/>
<circle cx="388.9" cy="1902.5" r="6.2"/>
<circle cx="396.7" cy="1905.5" r="6.2"/>
<circle cx="417.8" cy="1924.8" r="6.2"/>
<circle cx="443.6" cy="1938.9" r="6.2"/>
<circle cx="460.4" cy="1958.2" r="6.2"/>
<circle cx="481.4" cy="1973.8" r="6.2"/>
<circle cx="502.0" cy="1990.3" r="6.2"/>
<circle cx="520.6" cy="1992.5" r="6.2"/>
<circle cx="538.5" cy="2013.8" r="6.2"/>
<circle cx="561.2" cy="2033.9" r="6.2"/>
<circle cx="578.4" cy="2053.7" r="6.2"/>
<circle cx="598.0" cy="2060.7" r="6.2"/>
<circle cx="616.2" cy="2079.8" r="6.2"/>
<circle cx="621.4" cy="2089.1" r="6.2"/>
<circle cx="637.7" cy="2093.8" r="6.2"/>
<circle cx="657.1" cy="2109.1" r="6.2"/>
<circle cx="672.2" cy="2119.0" r="6.2"/>
<circle cx="702.4" cy="2141.3" r="6.2"/>
<circle cx="707.5" cy="2153.3" r="6.2"/>
<circle cx="729.6" cy="2168.3" r="6.2"/>
<circle cx="743.3" cy="2179.3" r="6.2"/>
<circle cx="768.7" cy="2206.7" r="6.2"/>
<circle cx="776.1" cy="2203.0" r="6.2"/>
<circle cx="799.8" cy="2226.3" r="6.2"/>
<circle cx="819.8" cy="2239.9" r="6.2"/>
<circle cx="828.3" cy="2250.6" r="6.2"/>
<circle cx="842.6" cy="2261.9" r="6.2"/>
<circle cx="868.0" cy="2280.1" r="6.2"/>
<circle cx="878.0" cy="2290.5" r="6.2"/>
<circle cx="895.3" cy="2306.0" r="6.2"/>
<circle cx="925.3" cy="2332.5" r="6.2"/>
</g>
<path d="M178.3 1769.9 L186.7 1774.6 L195.1 1779.5 L203.5 1784.3 L211.9 1789.2 L220.3 1794.2 L228.7 1799.2 L237.1 1804.3 L245.5 1809.4 L253.9 1814.6 L262.3 1819.8 L270.7 1825.0 L279.0 1830.3 L287.4 1835.7 L295.8 1841.1 L304.2 1846.6 L312.6 1852.1 L321.0 1857.7 L329.4 1863.3 L337.8 1869.0 L346.2 1874.7 L354.6 1880.5 L363.0 1886.3 L371.4 1892.1 L379.8 1898.0 L388.2 1903.9 L396.6 1909.9 L405.0 1915.8 L413.4 1921.9 L421.8 1927.9 L430.2 1934.0 L438.6 1940.2 L447.0 1946.3 L455.4 1952.5 L463.7 1958.7 L472.1 1965.0 L480.5 1971.3 L488.9 1977.6 L497.3 1983.9 L505.7 1990.3 L514.1 1996.7 L522.5 2003.2 L530.9 2009.6 L539.3 2016.1 L547.7 2022.6 L556.1 2029.2 L564.5 2035.7 L572.9 2042.3 L581.3 2048.9 L589.7 2055.5 L598.1 2062.2 L606.5 2068.9 L614.9 2075.6 L623.3 2082.3 L631.7 2089.0 L640.1 2095.8 L648.4 2102.5 L656.8 2109.3 L665.2 2116.1 L673.6 2122.9 L682.0 2129.8 L690.4 2136.6 L698.8 2143.5 L707.2 2150.3 L715.6 2157.1 L724.0 2164.0 L732.4 2170.8 L740.8 2177.7 L749.2 2184.6 L757.6 2191.4 L766.0 2198.3 L774.4 2205.2 L782.8 2212.1 L791.2 2219.0 L799.6 2226.0 L808.0 2232.9 L816.4 2239.8 L824.8 2246.7 L833.1 2253.7 L841.5 2260.6 L849.9 2267.6 L858.3 2274.5 L866.7 2281.5 L875.1 2288.4 L883.5 2295.3 L891.9 2302.3 L900.3 2309.2 L908.7 2316.2 L917.1 2323.1 L925.5 2330.0" fill="none" stroke="#b0184f" stroke-width="3.90" stroke-linecap="butt" stroke-linejoin="round" />
<g fill="none" stroke="#e21b26" stroke-width="1.25">
<circle cx="925.5" cy="2335.0" r="6.2"/>
<circle cx="285.5" cy="1840.6" r="6.2"/>
<circle cx="307.9" cy="1854.4" r="6.2"/>
<circle cx="318.5" cy="1860.6" r="6.2"/>
<circle cx="338.9" cy="1868.1" r="6.2"/>
<circle cx="359.6" cy="1880.1" r="6.2"/>
<circle cx="369.2" cy="1897.8" r="6.2"/>
<circle cx="401.2" cy="1918.7" r="6.2"/>
<circle cx="415.2" cy="1923.5" r="6.2"/>
<circle cx="438.8" cy="1940.5" r="6.2"/>
<circle cx="446.5" cy="1951.1" r="6.2"/>
<circle cx="470.8" cy="1977.9" r="6.2"/>
<circle cx="493.7" cy="1985.0" r="6.2"/>
<circle cx="509.6" cy="2000.3" r="6.2"/>
<circle cx="521.8" cy="2000.0" r="6.2"/>
<circle cx="542.6" cy="2007.8" r="6.2"/>
<circle cx="563.4" cy="2036.7" r="6.2"/>
<circle cx="571.1" cy="2049.2" r="6.2"/>
<circle cx="597.0" cy="2059.7" r="6.2"/>
<circle cx="614.5" cy="2070.0" r="6.2"/>
<circle cx="632.5" cy="2096.0" r="6.2"/>
<circle cx="646.1" cy="2102.9" r="6.2"/>
<circle cx="658.0" cy="2105.5" r="6.2"/>
<circle cx="679.8" cy="2132.2" r="6.2"/>
<circle cx="692.1" cy="2140.6" r="6.2"/>
<circle cx="701.1" cy="2143.6" r="6.2"/>
<circle cx="727.5" cy="2171.5" r="6.2"/>
<circle cx="737.5" cy="2180.3" r="6.2"/>
<circle cx="755.5" cy="2189.5" r="6.2"/>
<circle cx="776.9" cy="2205.5" r="6.2"/>
<circle cx="788.7" cy="2216.9" r="6.2"/>
<circle cx="814.6" cy="2237.3" r="6.2"/>
<circle cx="826.8" cy="2246.9" r="6.2"/>
<circle cx="846.2" cy="2268.5" r="6.2"/>
<circle cx="858.3" cy="2276.1" r="6.2"/>
<circle cx="866.6" cy="2282.0" r="6.2"/>
<circle cx="881.4" cy="2295.2" r="6.2"/>
<circle cx="900.1" cy="2311.3" r="6.2"/>
<circle cx="924.2" cy="2330.8" r="6.2"/>
</g>
<path d="M261.7 1823.6 L269.2 1828.3 L276.6 1833.0 L284.1 1837.7 L291.5 1842.5 L299.0 1847.3 L306.5 1852.2 L313.9 1857.1 L321.4 1862.0 L328.8 1866.9 L336.3 1871.9 L343.8 1876.9 L351.2 1882.0 L358.7 1887.1 L366.1 1892.2 L373.6 1897.3 L381.1 1902.5 L388.5 1907.7 L396.0 1912.9 L403.5 1918.2 L410.9 1923.5 L418.4 1928.8 L425.8 1934.1 L433.3 1939.5 L440.8 1944.9 L448.2 1950.3 L455.7 1955.8 L463.1 1961.3 L470.6 1966.8 L478.1 1972.3 L485.5 1977.8 L493.0 1983.4 L500.4 1989.0 L507.9 1994.6 L515.4 2000.3 L522.8 2005.9 L530.3 2011.6 L537.7 2017.3 L545.2 2023.0 L552.7 2028.8 L560.1 2034.6 L567.6 2040.3 L575.0 2046.1 L582.5 2052.0 L590.0 2057.8 L597.4 2063.7 L604.9 2069.5 L612.4 2075.4 L619.8 2081.3 L627.3 2087.2 L634.7 2093.2 L642.2 2099.1 L649.7 2105.1 L657.1 2111.1 L664.6 2117.1 L672.0 2123.1 L679.5 2129.1 L687.0 2135.1 L694.4 2141.1 L701.9 2147.2 L709.3 2153.2 L716.8 2159.3 L724.3 2165.4 L731.7 2171.5 L739.2 2177.6 L746.6 2183.7 L754.1 2189.8 L761.6 2195.9 L769.0 2202.0 L776.5 2208.2 L783.9 2214.3 L791.4 2220.4 L798.9 2226.6 L806.3 2232.7 L813.8 2238.9 L821.3 2245.1 L828.7 2251.2 L836.2 2257.4 L843.6 2263.6 L851.1 2269.7 L858.6 2275.9 L866.0 2282.1 L873.5 2288.2 L880.9 2294.4 L888.4 2300.6 L895.9 2306.7 L903.3 2312.9 L910.8 2319.1 L918.2 2325.2 L925.7 2331.4" fill="none" stroke="#e21b26" stroke-width="4.00" stroke-linecap="butt" stroke-linejoin="round" />
<g fill="none" stroke="#ed1c24" stroke-width="1.25">
<circle cx="925.5" cy="2335.0" r="6.2"/>
<circle cx="276.7" cy="1818.1" r="6.2"/>
<circle cx="299.7" cy="1849.9" r="6.2"/>
<circle cx="329.4" cy="1862.8" r="6.2"/>
<circle cx="361.2" cy="1891.9" r="6.2"/>
<circle cx="386.7" cy="1907.6" r="6.2"/>
<circle cx="391.1" cy="1908.9" r="6.2"/>
<circle cx="416.0" cy="1930.7" r="6.2"/>
<circle cx="436.5" cy="1957.2" r="6.2"/>
<circle cx="451.2" cy="1960.2" r="6.2"/>
<circle cx="471.0" cy="1966.0" r="6.2"/>
<circle cx="484.6" cy="1977.3" r="6.2"/>
<circle cx="508.7" cy="1994.5" r="6.2"/>
<circle cx="527.3" cy="2010.9" r="6.2"/>
<circle cx="537.3" cy="2023.5" r="6.2"/>
<circle cx="550.2" cy="2030.2" r="6.2"/>
<circle cx="569.4" cy="2044.9" r="6.2"/>
<circle cx="599.0" cy="2063.8" r="6.2"/>
<circle cx="613.4" cy="2090.8" r="6.2"/>
<circle cx="633.5" cy="2098.8" r="6.2"/>
<circle cx="659.1" cy="2113.5" r="6.2"/>
<circle cx="684.0" cy="2135.8" r="6.2"/>
<circle cx="699.9" cy="2152.6" r="6.2"/>
<circle cx="712.8" cy="2150.3" r="6.2"/>
<circle cx="730.7" cy="2175.3" r="6.2"/>
<circle cx="743.5" cy="2187.2" r="6.2"/>
<circle cx="757.4" cy="2198.1" r="6.2"/>
<circle cx="769.5" cy="2208.6" r="6.2"/>
<circle cx="784.4" cy="2218.7" r="6.2"/>
<circle cx="805.6" cy="2233.8" r="6.2"/>
<circle cx="818.8" cy="2243.8" r="6.2"/>
<circle cx="839.9" cy="2260.2" r="6.2"/>
<circle cx="855.0" cy="2277.6" r="6.2"/>
<circle cx="878.3" cy="2298.0" r="6.2"/>
<circle cx="882.1" cy="2297.5" r="6.2"/>
<circle cx="896.0" cy="2312.1" r="6.2"/>
<circle cx="919.8" cy="2327.9" r="6.2"/>
</g>
<path d="M261.7 1826.6 L269.2 1831.3 L276.6 1836.0 L284.1 1840.7 L291.5 1845.5 L299.0 1850.3 L306.5 1855.2 L313.9 1860.1 L321.4 1865.0 L328.8 1869.9 L336.3 1874.9 L343.8 1879.9 L351.2 1885.0 L358.7 1890.1 L366.1 1895.2 L373.6 1900.3 L381.1 1905.5 L388.5 1910.7 L396.0 1915.9 L403.5 1921.2 L410.9 1926.5 L418.4 1931.8 L425.8 1937.1 L433.3 1942.5 L440.8 1947.9 L448.2 1953.3 L455.7 1958.8 L463.1 1964.3 L470.6 1969.8 L478.1 1975.3 L485.5 1980.8 L493.0 1986.4 L500.4 1992.0 L507.9 1997.6 L515.4 2003.3 L522.8 2008.9 L530.3 2014.6 L537.7 2020.3 L545.2 2026.0 L552.7 2031.8 L560.1 2037.6 L567.6 2043.3 L575.0 2049.1 L582.5 2055.0 L590.0 2060.8 L597.4 2066.7 L604.9 2072.5 L612.4 2078.4 L619.8 2084.3 L627.3 2090.2 L634.7 2096.2 L642.2 2102.1 L649.7 2108.1 L657.1 2114.1 L664.6 2120.1 L672.0 2126.1 L679.5 2132.1 L687.0 2138.1 L694.4 2144.1 L701.9 2150.2 L709.3 2156.2 L716.8 2162.3 L724.3 2168.4 L731.7 2174.5 L739.2 2180.6 L746.6 2186.7 L754.1 2192.8 L761.6 2198.9 L769.0 2205.0 L776.5 2211.2 L783.9 2217.3 L791.4 2223.4 L798.9 2229.6 L806.3 2235.7 L813.8 2241.9 L821.3 2248.1 L828.7 2254.2 L836.2 2260.4 L843.6 2266.6 L851.1 2272.7 L858.6 2278.9 L866.0 2285.1 L873.5 2291.2 L880.9 2297.4 L888.4 2303.6 L895.9 2309.7 L903.3 2315.9 L910.8 2322.1 L918.2 2328.2 L925.7 2334.4" fill="none" stroke="#ed1c24" stroke-width="4.00" stroke-linecap="butt" stroke-linejoin="round" />
<rect x="733.9" y="1813.7" width="330.2" height="230.6" fill="#fff" stroke="#231f20" stroke-width="1.3"/>
<line x1="742.60" y1="1831.30" x2="802.60" y2="1831.30" stroke="#3953a4" stroke-width="3.90"/>
<line x1="742.60" y1="1859.22" x2="802.60" y2="1859.22" stroke="#3b4ea1" stroke-width="3.90"/>
<line x1="742.60" y1="1887.14" x2="802.60" y2="1887.14" stroke="#433a97" stroke-width="3.90"/>
<line x1="742.60" y1="1915.06" x2="802.60" y2="1915.06" stroke="#5b2d90" stroke-width="3.90"/>
<line x1="742.60" y1="1942.98" x2="802.60" y2="1942.98" stroke="#86207f" stroke-width="3.90"/>
<line x1="742.60" y1="1970.90" x2="802.60" y2="1970.90" stroke="#b0184f" stroke-width="3.90"/>
<line x1="742.60" y1="1998.82" x2="802.60" y2="1998.82" stroke="#e21b26" stroke-width="3.90"/>
<line x1="742.60" y1="2026.74" x2="802.60" y2="2026.74" stroke="#ed1c24" stroke-width="3.90"/>
<g>
<text x="105.36" y="752.33" font-size="28.30" text-anchor="end" font-weight="normal" >0</text>
<text x="114.49" y="662.08" font-size="28.30" text-anchor="end" font-weight="normal" >100</text>
<text x="114.49" y="571.83" font-size="28.30" text-anchor="end" font-weight="normal" >200</text>
<text x="114.49" y="481.58" font-size="28.30" text-anchor="end" font-weight="normal" >300</text>
<text x="114.49" y="391.33" font-size="28.30" text-anchor="end" font-weight="normal" >400</text>
<text x="114.49" y="301.08" font-size="28.30" text-anchor="end" font-weight="normal" >500</text>
<text x="114.49" y="210.83" font-size="28.30" text-anchor="end" font-weight="normal" >600</text>
<text x="114.49" y="120.58" font-size="28.30" text-anchor="end" font-weight="normal" >700</text>
<text x="114.49" y="30.33" font-size="28.30" text-anchor="end" font-weight="normal" >800</text>
<text x="253.90" y="777.00" font-size="25.30" text-anchor="middle" font-weight="normal" >1</text>
<text x="386.47" y="777.00" font-size="25.30" text-anchor="middle" font-weight="normal" >2</text>
<text x="561.73" y="777.00" font-size="25.30" text-anchor="middle" font-weight="normal" >5</text>
<text x="694.30" y="777.00" font-size="25.30" text-anchor="middle" font-weight="normal" >10</text>
<text x="826.87" y="777.00" font-size="25.30" text-anchor="middle" font-weight="normal" >20</text>
<text x="1002.13" y="777.00" font-size="25.30" text-anchor="middle" font-weight="normal" >50</text>
<text x="4.10" y="30.80" font-size="36.00" text-anchor="start" font-weight="bold" >A</text>
<text transform="translate(31.5,683.3) rotate(-90)" font-size="36.86">Mean sample size (Mean decision time)</text>
<text x="477.8" y="823.5" font-size="37">Error rate [%]</text>
<text x="827.50" y="129.40" font-size="20.30" text-anchor="start" font-weight="normal" >FFW</text>
<text x="827.50" y="158.05" font-size="20.30" text-anchor="start" font-weight="normal" >FB (b = 0.02)</text>
<text x="827.50" y="186.70" font-size="20.30" text-anchor="start" font-weight="normal" >MSPRTa</text>
<text x="827.50" y="215.35" font-size="20.30" text-anchor="start" font-weight="normal" >MSPRTb</text>
<text x="115.15" y="1512.60" font-size="28.00" text-anchor="end" font-weight="normal" >200</text>
<text x="115.15" y="1354.96" font-size="28.00" text-anchor="end" font-weight="normal" >400</text>
<text x="115.15" y="1197.31" font-size="28.00" text-anchor="end" font-weight="normal" >600</text>
<text x="115.15" y="1039.67" font-size="28.00" text-anchor="end" font-weight="normal" >800</text>
<text x="119.67" y="882.02" font-size="28.00" text-anchor="end" font-weight="normal" >1000</text>
<text x="258.80" y="1615.70" font-size="25.30" text-anchor="middle" font-weight="normal" >1</text>
<text x="394.26" y="1615.70" font-size="25.30" text-anchor="middle" font-weight="normal" >2</text>
<text x="573.34" y="1615.70" font-size="25.30" text-anchor="middle" font-weight="normal" >5</text>
<text x="708.80" y="1615.70" font-size="25.30" text-anchor="middle" font-weight="normal" >10</text>
<text x="844.26" y="1615.70" font-size="25.30" text-anchor="middle" font-weight="normal" >20</text>
<text x="1023.34" y="1615.70" font-size="25.30" text-anchor="middle" font-weight="normal" >50</text>
<text x="3.80" y="876.50" font-size="36.00" text-anchor="start" font-weight="bold" >B</text>
<text transform="translate(31.4,1523.5) rotate(-90)" font-size="36.5" textLength="638.7" lengthAdjust="spacingAndGlyphs">Mean sample size (Mean decision time)</text>
<text x="479.9" y="1662.1" font-size="36.5">Error rate [%]</text>
<text x="247.20" y="1333.90" font-size="20.00" text-anchor="start" font-weight="normal" textLength="105.0" lengthAdjust="spacing">l = 0 (τ = ∞)</text>
<text x="247.20" y="1362.15" font-size="20.00" text-anchor="start" font-weight="normal" textLength="251.0" lengthAdjust="spacing">l = 0.001 (τ= 1000 samples)</text>
<text x="247.20" y="1390.40" font-size="20.00" text-anchor="start" font-weight="normal" textLength="239.9" lengthAdjust="spacing">l = 0.002 (τ= 500 samples)</text>
<text x="247.20" y="1418.65" font-size="20.00" text-anchor="start" font-weight="normal" >l = 0.005 (τ = 200 samples)</text>
<text x="247.20" y="1446.90" font-size="20.00" text-anchor="start" font-weight="normal" >l = 0.01 (τ = 100 samples)</text>
<text x="247.20" y="1475.15" font-size="20.00" text-anchor="start" font-weight="normal" >l = 0.02 (τ = 50 samples)</text>
<text x="247.20" y="1503.40" font-size="20.00" text-anchor="start" font-weight="normal" >l = 0.05 (τ = 20 samples)</text>
<text x="247.20" y="1531.65" font-size="20.00" text-anchor="start" font-weight="normal" >l = 0.1 (τ = 10 samples)</text>
<text x="100.17" y="2421.02" font-size="27.70" text-anchor="end" font-weight="normal" >0</text>
<text x="109.10" y="2333.50" font-size="27.70" text-anchor="end" font-weight="normal" >100</text>
<text x="109.10" y="2245.99" font-size="27.70" text-anchor="end" font-weight="normal" >200</text>
<text x="109.10" y="2158.48" font-size="27.70" text-anchor="end" font-weight="normal" >300</text>
<text x="109.10" y="2070.97" font-size="27.70" text-anchor="end" font-weight="normal" >400</text>
<text x="109.10" y="1983.45" font-size="27.70" text-anchor="end" font-weight="normal" >500</text>
<text x="109.10" y="1895.94" font-size="27.70" text-anchor="end" font-weight="normal" >600</text>
<text x="109.10" y="1808.43" font-size="27.70" text-anchor="end" font-weight="normal" >700</text>
<text x="109.10" y="1720.92" font-size="27.70" text-anchor="end" font-weight="normal" >800</text>
<text x="250.70" y="2447.00" font-size="25.30" text-anchor="middle" font-weight="normal" >1</text>
<text x="384.51" y="2447.00" font-size="25.30" text-anchor="middle" font-weight="normal" >2</text>
<text x="561.39" y="2447.00" font-size="25.30" text-anchor="middle" font-weight="normal" >5</text>
<text x="695.20" y="2447.00" font-size="25.30" text-anchor="middle" font-weight="normal" >10</text>
<text x="829.01" y="2447.00" font-size="25.30" text-anchor="middle" font-weight="normal" >20</text>
<text x="1005.89" y="2447.00" font-size="25.30" text-anchor="middle" font-weight="normal" >50</text>
<text x="2.60" y="1719.60" font-size="36.00" text-anchor="start" font-weight="bold" >C</text>
<text transform="translate(30.8,2353.7) rotate(-90)" font-size="36.2" textLength="630.7" lengthAdjust="spacingAndGlyphs">Mean sample size (Mean decision time)</text>
<text x="467.8" y="2492.5" font-size="36">Error rate [%]</text>
<text x="808.60" y="1838.30" font-size="20.00" text-anchor="start" font-weight="normal" >b = 0.002 (τ = 500 samples)</text>
<text x="808.60" y="1866.22" font-size="20.00" text-anchor="start" font-weight="normal" >b = 0.005 (τ = 200 samples)</text>
<text x="808.60" y="1894.14" font-size="20.00" text-anchor="start" font-weight="normal" >b = 0.01 (τ = 100 samples)</text>
<text x="808.60" y="1922.06" font-size="20.00" text-anchor="start" font-weight="normal" >b = 0.02 (τ = 50 samples)</text>
<text x="808.60" y="1949.98" font-size="20.00" text-anchor="start" font-weight="normal" >b = 0.05 (τ = 20 samples)</text>
<text x="808.60" y="1977.90" font-size="20.00" text-anchor="start" font-weight="normal" >b = 0.1 (τ = 10 samples)</text>
<text x="808.60" y="2005.82" font-size="20.00" text-anchor="start" font-weight="normal" >b = 0.2 (τ = 5 samples)</text>
<text x="808.60" y="2033.74" font-size="20.00" text-anchor="start" font-weight="normal" >b = 0.5 (τ = 2 samples)</text>
</g>
</svg></div></body></html>
